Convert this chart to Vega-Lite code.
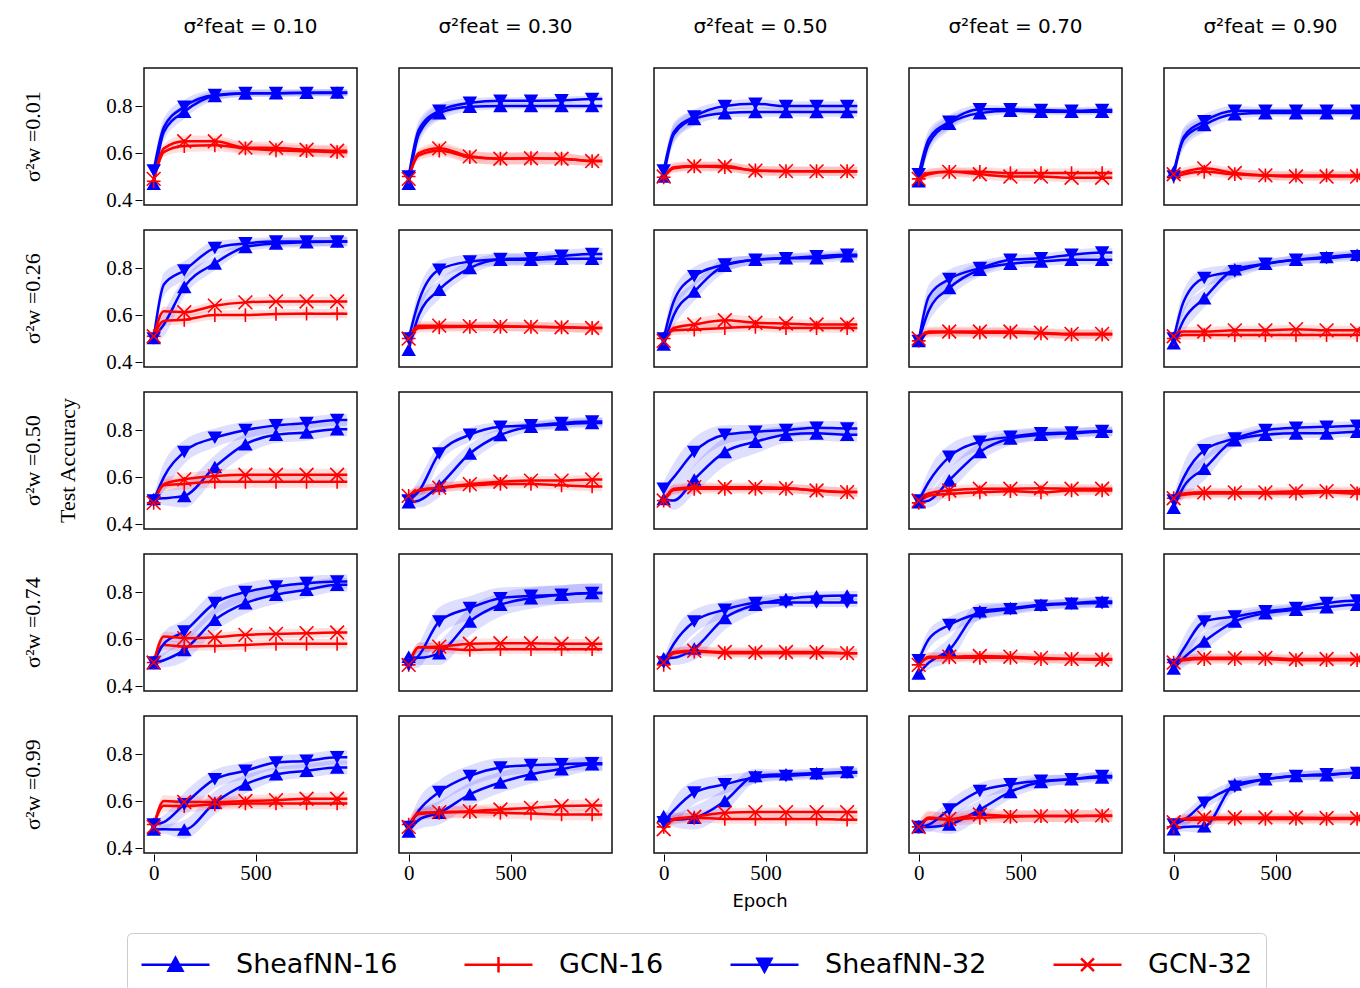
{
"$schema":"https://vega.github.io/schema/vega-lite/v6.json",
"padding":{"left":21,"top":17,"right":0,"bottom":0},
"background":"white",
"data":{"values":[
{"w":"0.01","f":"0.10","s":"SheafNN-16","e":0,"v":0.47,"d":0.02},{"w":"0.01","f":"0.10","s":"SheafNN-16","e":50,"v":0.69,"d":0.04},{"w":"0.01","f":"0.10","s":"SheafNN-16","e":150,"v":0.776,"d":0.03},{"w":"0.01","f":"0.10","s":"SheafNN-16","e":300,"v":0.843,"d":0.02},{"w":"0.01","f":"0.10","s":"SheafNN-16","e":450,"v":0.854,"d":0.015},{"w":"0.01","f":"0.10","s":"SheafNN-16","e":600,"v":0.855,"d":0.015},{"w":"0.01","f":"0.10","s":"SheafNN-16","e":750,"v":0.857,"d":0.015},{"w":"0.01","f":"0.10","s":"SheafNN-16","e":900,"v":0.858,"d":0.015},{"w":"0.01","f":"0.10","s":"SheafNN-16","e":950,"v":0.858,"d":0.015},
{"w":"0.01","f":"0.10","s":"GCN-16","e":0,"v":0.48,"d":0.02},{"w":"0.01","f":"0.10","s":"GCN-16","e":50,"v":0.604,"d":0.02},{"w":"0.01","f":"0.10","s":"GCN-16","e":150,"v":0.63,"d":0.025},{"w":"0.01","f":"0.10","s":"GCN-16","e":300,"v":0.633,"d":0.025},{"w":"0.01","f":"0.10","s":"GCN-16","e":450,"v":0.62,"d":0.025},{"w":"0.01","f":"0.10","s":"GCN-16","e":600,"v":0.612,"d":0.025},{"w":"0.01","f":"0.10","s":"GCN-16","e":750,"v":0.608,"d":0.025},{"w":"0.01","f":"0.10","s":"GCN-16","e":900,"v":0.604,"d":0.025},{"w":"0.01","f":"0.10","s":"GCN-16","e":950,"v":0.604,"d":0.025},
{"w":"0.01","f":"0.10","s":"SheafNN-32","e":0,"v":0.526,"d":0.02},{"w":"0.01","f":"0.10","s":"SheafNN-32","e":50,"v":0.71,"d":0.04},{"w":"0.01","f":"0.10","s":"SheafNN-32","e":150,"v":0.797,"d":0.03},{"w":"0.01","f":"0.10","s":"SheafNN-32","e":300,"v":0.847,"d":0.02},{"w":"0.01","f":"0.10","s":"SheafNN-32","e":450,"v":0.855,"d":0.015},{"w":"0.01","f":"0.10","s":"SheafNN-32","e":600,"v":0.855,"d":0.015},{"w":"0.01","f":"0.10","s":"SheafNN-32","e":750,"v":0.856,"d":0.015},{"w":"0.01","f":"0.10","s":"SheafNN-32","e":900,"v":0.856,"d":0.015},{"w":"0.01","f":"0.10","s":"SheafNN-32","e":950,"v":0.856,"d":0.015},
{"w":"0.01","f":"0.10","s":"GCN-32","e":0,"v":0.49,"d":0.02},{"w":"0.01","f":"0.10","s":"GCN-32","e":50,"v":0.62,"d":0.02},{"w":"0.01","f":"0.10","s":"GCN-32","e":150,"v":0.65,"d":0.025},{"w":"0.01","f":"0.10","s":"GCN-32","e":300,"v":0.65,"d":0.025},{"w":"0.01","f":"0.10","s":"GCN-32","e":450,"v":0.623,"d":0.025},{"w":"0.01","f":"0.10","s":"GCN-32","e":600,"v":0.622,"d":0.025},{"w":"0.01","f":"0.10","s":"GCN-32","e":750,"v":0.614,"d":0.025},{"w":"0.01","f":"0.10","s":"GCN-32","e":900,"v":0.61,"d":0.025},{"w":"0.01","f":"0.10","s":"GCN-32","e":950,"v":0.61,"d":0.025},

{"w":"0.01","f":"0.30","s":"SheafNN-16","e":0,"v":0.47,"d":0.02},{"w":"0.01","f":"0.30","s":"SheafNN-16","e":50,"v":0.68,"d":0.04},{"w":"0.01","f":"0.30","s":"SheafNN-16","e":150,"v":0.77,"d":0.03},{"w":"0.01","f":"0.30","s":"SheafNN-16","e":300,"v":0.797,"d":0.02},{"w":"0.01","f":"0.30","s":"SheafNN-16","e":450,"v":0.8,"d":0.015},{"w":"0.01","f":"0.30","s":"SheafNN-16","e":600,"v":0.8,"d":0.015},{"w":"0.01","f":"0.30","s":"SheafNN-16","e":750,"v":0.8,"d":0.015},{"w":"0.01","f":"0.30","s":"SheafNN-16","e":900,"v":0.8,"d":0.015},{"w":"0.01","f":"0.30","s":"SheafNN-16","e":950,"v":0.8,"d":0.015},
{"w":"0.01","f":"0.30","s":"GCN-16","e":0,"v":0.5,"d":0.02},{"w":"0.01","f":"0.30","s":"GCN-16","e":50,"v":0.59,"d":0.02},{"w":"0.01","f":"0.30","s":"GCN-16","e":150,"v":0.61,"d":0.025},{"w":"0.01","f":"0.30","s":"GCN-16","e":300,"v":0.583,"d":0.025},{"w":"0.01","f":"0.30","s":"GCN-16","e":450,"v":0.576,"d":0.025},{"w":"0.01","f":"0.30","s":"GCN-16","e":600,"v":0.578,"d":0.025},{"w":"0.01","f":"0.30","s":"GCN-16","e":750,"v":0.576,"d":0.025},{"w":"0.01","f":"0.30","s":"GCN-16","e":900,"v":0.566,"d":0.02},{"w":"0.01","f":"0.30","s":"GCN-16","e":950,"v":0.566,"d":0.02},
{"w":"0.01","f":"0.30","s":"SheafNN-32","e":0,"v":0.5,"d":0.02},{"w":"0.01","f":"0.30","s":"SheafNN-32","e":50,"v":0.7,"d":0.04},{"w":"0.01","f":"0.30","s":"SheafNN-32","e":150,"v":0.78,"d":0.03},{"w":"0.01","f":"0.30","s":"SheafNN-32","e":300,"v":0.814,"d":0.02},{"w":"0.01","f":"0.30","s":"SheafNN-32","e":450,"v":0.823,"d":0.015},{"w":"0.01","f":"0.30","s":"SheafNN-32","e":600,"v":0.823,"d":0.015},{"w":"0.01","f":"0.30","s":"SheafNN-32","e":750,"v":0.825,"d":0.015},{"w":"0.01","f":"0.30","s":"SheafNN-32","e":900,"v":0.83,"d":0.015},{"w":"0.01","f":"0.30","s":"SheafNN-32","e":950,"v":0.83,"d":0.015},
{"w":"0.01","f":"0.30","s":"GCN-32","e":0,"v":0.49,"d":0.02},{"w":"0.01","f":"0.30","s":"GCN-32","e":50,"v":0.6,"d":0.02},{"w":"0.01","f":"0.30","s":"GCN-32","e":150,"v":0.62,"d":0.025},{"w":"0.01","f":"0.30","s":"GCN-32","e":300,"v":0.586,"d":0.025},{"w":"0.01","f":"0.30","s":"GCN-32","e":450,"v":0.576,"d":0.025},{"w":"0.01","f":"0.30","s":"GCN-32","e":600,"v":0.578,"d":0.025},{"w":"0.01","f":"0.30","s":"GCN-32","e":750,"v":0.576,"d":0.025},{"w":"0.01","f":"0.30","s":"GCN-32","e":900,"v":0.566,"d":0.02},{"w":"0.01","f":"0.30","s":"GCN-32","e":950,"v":0.566,"d":0.02},

{"w":"0.01","f":"0.50","s":"SheafNN-16","e":0,"v":0.5,"d":0.02},{"w":"0.01","f":"0.50","s":"SheafNN-16","e":50,"v":0.68,"d":0.04},{"w":"0.01","f":"0.50","s":"SheafNN-16","e":150,"v":0.745,"d":0.03},{"w":"0.01","f":"0.50","s":"SheafNN-16","e":300,"v":0.77,"d":0.02},{"w":"0.01","f":"0.50","s":"SheafNN-16","e":450,"v":0.775,"d":0.02},{"w":"0.01","f":"0.50","s":"SheafNN-16","e":600,"v":0.775,"d":0.02},{"w":"0.01","f":"0.50","s":"SheafNN-16","e":750,"v":0.775,"d":0.02},{"w":"0.01","f":"0.50","s":"SheafNN-16","e":900,"v":0.775,"d":0.02},{"w":"0.01","f":"0.50","s":"SheafNN-16","e":950,"v":0.775,"d":0.02},
{"w":"0.01","f":"0.50","s":"GCN-16","e":0,"v":0.497,"d":0.02},{"w":"0.01","f":"0.50","s":"GCN-16","e":50,"v":0.535,"d":0.02},{"w":"0.01","f":"0.50","s":"GCN-16","e":150,"v":0.543,"d":0.02},{"w":"0.01","f":"0.50","s":"GCN-16","e":300,"v":0.54,"d":0.02},{"w":"0.01","f":"0.50","s":"GCN-16","e":450,"v":0.526,"d":0.02},{"w":"0.01","f":"0.50","s":"GCN-16","e":600,"v":0.523,"d":0.02},{"w":"0.01","f":"0.50","s":"GCN-16","e":750,"v":0.523,"d":0.02},{"w":"0.01","f":"0.50","s":"GCN-16","e":900,"v":0.523,"d":0.02},{"w":"0.01","f":"0.50","s":"GCN-16","e":950,"v":0.523,"d":0.02},
{"w":"0.01","f":"0.50","s":"SheafNN-32","e":0,"v":0.526,"d":0.02},{"w":"0.01","f":"0.50","s":"SheafNN-32","e":50,"v":0.69,"d":0.04},{"w":"0.01","f":"0.50","s":"SheafNN-32","e":150,"v":0.755,"d":0.03},{"w":"0.01","f":"0.50","s":"SheafNN-32","e":300,"v":0.8,"d":0.02},{"w":"0.01","f":"0.50","s":"SheafNN-32","e":450,"v":0.81,"d":0.02},{"w":"0.01","f":"0.50","s":"SheafNN-32","e":600,"v":0.8,"d":0.02},{"w":"0.01","f":"0.50","s":"SheafNN-32","e":750,"v":0.8,"d":0.02},{"w":"0.01","f":"0.50","s":"SheafNN-32","e":900,"v":0.8,"d":0.02},{"w":"0.01","f":"0.50","s":"SheafNN-32","e":950,"v":0.8,"d":0.02},
{"w":"0.01","f":"0.50","s":"GCN-32","e":0,"v":0.5,"d":0.02},{"w":"0.01","f":"0.50","s":"GCN-32","e":50,"v":0.54,"d":0.02},{"w":"0.01","f":"0.50","s":"GCN-32","e":150,"v":0.545,"d":0.02},{"w":"0.01","f":"0.50","s":"GCN-32","e":300,"v":0.545,"d":0.02},{"w":"0.01","f":"0.50","s":"GCN-32","e":450,"v":0.525,"d":0.02},{"w":"0.01","f":"0.50","s":"GCN-32","e":600,"v":0.523,"d":0.02},{"w":"0.01","f":"0.50","s":"GCN-32","e":750,"v":0.522,"d":0.02},{"w":"0.01","f":"0.50","s":"GCN-32","e":900,"v":0.522,"d":0.02},{"w":"0.01","f":"0.50","s":"GCN-32","e":950,"v":0.522,"d":0.02},

{"w":"0.01","f":"0.70","s":"SheafNN-16","e":0,"v":0.48,"d":0.02},{"w":"0.01","f":"0.70","s":"SheafNN-16","e":50,"v":0.64,"d":0.04},{"w":"0.01","f":"0.70","s":"SheafNN-16","e":150,"v":0.725,"d":0.03},{"w":"0.01","f":"0.70","s":"SheafNN-16","e":300,"v":0.77,"d":0.02},{"w":"0.01","f":"0.70","s":"SheafNN-16","e":450,"v":0.78,"d":0.015},{"w":"0.01","f":"0.70","s":"SheafNN-16","e":600,"v":0.776,"d":0.015},{"w":"0.01","f":"0.70","s":"SheafNN-16","e":750,"v":0.776,"d":0.015},{"w":"0.01","f":"0.70","s":"SheafNN-16","e":900,"v":0.776,"d":0.015},{"w":"0.01","f":"0.70","s":"SheafNN-16","e":950,"v":0.776,"d":0.015},
{"w":"0.01","f":"0.70","s":"GCN-16","e":0,"v":0.49,"d":0.02},{"w":"0.01","f":"0.70","s":"GCN-16","e":50,"v":0.515,"d":0.02},{"w":"0.01","f":"0.70","s":"GCN-16","e":150,"v":0.52,"d":0.02},{"w":"0.01","f":"0.70","s":"GCN-16","e":300,"v":0.52,"d":0.02},{"w":"0.01","f":"0.70","s":"GCN-16","e":450,"v":0.515,"d":0.02},{"w":"0.01","f":"0.70","s":"GCN-16","e":600,"v":0.515,"d":0.02},{"w":"0.01","f":"0.70","s":"GCN-16","e":750,"v":0.515,"d":0.02},{"w":"0.01","f":"0.70","s":"GCN-16","e":900,"v":0.515,"d":0.02},{"w":"0.01","f":"0.70","s":"GCN-16","e":950,"v":0.515,"d":0.02},
{"w":"0.01","f":"0.70","s":"SheafNN-32","e":0,"v":0.51,"d":0.02},{"w":"0.01","f":"0.70","s":"SheafNN-32","e":50,"v":0.66,"d":0.04},{"w":"0.01","f":"0.70","s":"SheafNN-32","e":150,"v":0.733,"d":0.03},{"w":"0.01","f":"0.70","s":"SheafNN-32","e":300,"v":0.786,"d":0.02},{"w":"0.01","f":"0.70","s":"SheafNN-32","e":450,"v":0.786,"d":0.015},{"w":"0.01","f":"0.70","s":"SheafNN-32","e":600,"v":0.783,"d":0.015},{"w":"0.01","f":"0.70","s":"SheafNN-32","e":750,"v":0.78,"d":0.015},{"w":"0.01","f":"0.70","s":"SheafNN-32","e":900,"v":0.783,"d":0.015},{"w":"0.01","f":"0.70","s":"SheafNN-32","e":950,"v":0.783,"d":0.015},
{"w":"0.01","f":"0.70","s":"GCN-32","e":0,"v":0.49,"d":0.02},{"w":"0.01","f":"0.70","s":"GCN-32","e":50,"v":0.51,"d":0.02},{"w":"0.01","f":"0.70","s":"GCN-32","e":150,"v":0.52,"d":0.02},{"w":"0.01","f":"0.70","s":"GCN-32","e":300,"v":0.51,"d":0.02},{"w":"0.01","f":"0.70","s":"GCN-32","e":450,"v":0.5,"d":0.02},{"w":"0.01","f":"0.70","s":"GCN-32","e":600,"v":0.5,"d":0.02},{"w":"0.01","f":"0.70","s":"GCN-32","e":750,"v":0.495,"d":0.02},{"w":"0.01","f":"0.70","s":"GCN-32","e":900,"v":0.495,"d":0.02},{"w":"0.01","f":"0.70","s":"GCN-32","e":950,"v":0.495,"d":0.02},

{"w":"0.01","f":"0.90","s":"SheafNN-16","e":0,"v":0.52,"d":0.02},{"w":"0.01","f":"0.90","s":"SheafNN-16","e":50,"v":0.66,"d":0.04},{"w":"0.01","f":"0.90","s":"SheafNN-16","e":150,"v":0.72,"d":0.03},{"w":"0.01","f":"0.90","s":"SheafNN-16","e":300,"v":0.765,"d":0.02},{"w":"0.01","f":"0.90","s":"SheafNN-16","e":450,"v":0.77,"d":0.015},{"w":"0.01","f":"0.90","s":"SheafNN-16","e":600,"v":0.77,"d":0.015},{"w":"0.01","f":"0.90","s":"SheafNN-16","e":750,"v":0.77,"d":0.015},{"w":"0.01","f":"0.90","s":"SheafNN-16","e":900,"v":0.77,"d":0.015},{"w":"0.01","f":"0.90","s":"SheafNN-16","e":950,"v":0.77,"d":0.015},
{"w":"0.01","f":"0.90","s":"GCN-16","e":0,"v":0.5,"d":0.02},{"w":"0.01","f":"0.90","s":"GCN-16","e":50,"v":0.51,"d":0.02},{"w":"0.01","f":"0.90","s":"GCN-16","e":150,"v":0.52,"d":0.02},{"w":"0.01","f":"0.90","s":"GCN-16","e":300,"v":0.51,"d":0.02},{"w":"0.01","f":"0.90","s":"GCN-16","e":450,"v":0.505,"d":0.02},{"w":"0.01","f":"0.90","s":"GCN-16","e":600,"v":0.505,"d":0.02},{"w":"0.01","f":"0.90","s":"GCN-16","e":750,"v":0.505,"d":0.02},{"w":"0.01","f":"0.90","s":"GCN-16","e":900,"v":0.505,"d":0.02},{"w":"0.01","f":"0.90","s":"GCN-16","e":950,"v":0.505,"d":0.02},
{"w":"0.01","f":"0.90","s":"SheafNN-32","e":0,"v":0.5,"d":0.02},{"w":"0.01","f":"0.90","s":"SheafNN-32","e":50,"v":0.67,"d":0.04},{"w":"0.01","f":"0.90","s":"SheafNN-32","e":150,"v":0.735,"d":0.03},{"w":"0.01","f":"0.90","s":"SheafNN-32","e":300,"v":0.78,"d":0.02},{"w":"0.01","f":"0.90","s":"SheafNN-32","e":450,"v":0.78,"d":0.015},{"w":"0.01","f":"0.90","s":"SheafNN-32","e":600,"v":0.78,"d":0.015},{"w":"0.01","f":"0.90","s":"SheafNN-32","e":750,"v":0.78,"d":0.015},{"w":"0.01","f":"0.90","s":"SheafNN-32","e":900,"v":0.78,"d":0.015},{"w":"0.01","f":"0.90","s":"SheafNN-32","e":950,"v":0.78,"d":0.015},
{"w":"0.01","f":"0.90","s":"GCN-32","e":0,"v":0.51,"d":0.02},{"w":"0.01","f":"0.90","s":"GCN-32","e":50,"v":0.52,"d":0.02},{"w":"0.01","f":"0.90","s":"GCN-32","e":150,"v":0.535,"d":0.02},{"w":"0.01","f":"0.90","s":"GCN-32","e":300,"v":0.515,"d":0.02},{"w":"0.01","f":"0.90","s":"GCN-32","e":450,"v":0.505,"d":0.02},{"w":"0.01","f":"0.90","s":"GCN-32","e":600,"v":0.5,"d":0.02},{"w":"0.01","f":"0.90","s":"GCN-32","e":750,"v":0.5,"d":0.02},{"w":"0.01","f":"0.90","s":"GCN-32","e":900,"v":0.5,"d":0.02},{"w":"0.01","f":"0.90","s":"GCN-32","e":950,"v":0.5,"d":0.02},

{"w":"0.26","f":"0.10","s":"SheafNN-16","e":0,"v":0.503,"d":0.02},{"w":"0.26","f":"0.10","s":"SheafNN-16","e":50,"v":0.56,"d":0.05},{"w":"0.26","f":"0.10","s":"SheafNN-16","e":150,"v":0.72,"d":0.04},{"w":"0.26","f":"0.10","s":"SheafNN-16","e":300,"v":0.82,"d":0.03},{"w":"0.26","f":"0.10","s":"SheafNN-16","e":450,"v":0.89,"d":0.02},{"w":"0.26","f":"0.10","s":"SheafNN-16","e":600,"v":0.905,"d":0.02},{"w":"0.26","f":"0.10","s":"SheafNN-16","e":750,"v":0.91,"d":0.02},{"w":"0.26","f":"0.10","s":"SheafNN-16","e":900,"v":0.913,"d":0.02},{"w":"0.26","f":"0.10","s":"SheafNN-16","e":950,"v":0.913,"d":0.02},
{"w":"0.26","f":"0.10","s":"GCN-16","e":0,"v":0.51,"d":0.02},{"w":"0.26","f":"0.10","s":"GCN-16","e":50,"v":0.575,"d":0.02},{"w":"0.26","f":"0.10","s":"GCN-16","e":150,"v":0.58,"d":0.02},{"w":"0.26","f":"0.10","s":"GCN-16","e":300,"v":0.6,"d":0.02},{"w":"0.26","f":"0.10","s":"GCN-16","e":450,"v":0.6,"d":0.02},{"w":"0.26","f":"0.10","s":"GCN-16","e":600,"v":0.605,"d":0.02},{"w":"0.26","f":"0.10","s":"GCN-16","e":750,"v":0.606,"d":0.02},{"w":"0.26","f":"0.10","s":"GCN-16","e":900,"v":0.606,"d":0.02},{"w":"0.26","f":"0.10","s":"GCN-16","e":950,"v":0.606,"d":0.02},
{"w":"0.26","f":"0.10","s":"SheafNN-32","e":0,"v":0.5,"d":0.02},{"w":"0.26","f":"0.10","s":"SheafNN-32","e":50,"v":0.73,"d":0.05},{"w":"0.26","f":"0.10","s":"SheafNN-32","e":150,"v":0.79,"d":0.04},{"w":"0.26","f":"0.10","s":"SheafNN-32","e":300,"v":0.885,"d":0.03},{"w":"0.26","f":"0.10","s":"SheafNN-32","e":450,"v":0.905,"d":0.02},{"w":"0.26","f":"0.10","s":"SheafNN-32","e":600,"v":0.913,"d":0.02},{"w":"0.26","f":"0.10","s":"SheafNN-32","e":750,"v":0.913,"d":0.02},{"w":"0.26","f":"0.10","s":"SheafNN-32","e":900,"v":0.913,"d":0.02},{"w":"0.26","f":"0.10","s":"SheafNN-32","e":950,"v":0.913,"d":0.02},
{"w":"0.26","f":"0.10","s":"GCN-32","e":0,"v":0.51,"d":0.02},{"w":"0.26","f":"0.10","s":"GCN-32","e":50,"v":0.616,"d":0.02},{"w":"0.26","f":"0.10","s":"GCN-32","e":150,"v":0.612,"d":0.02},{"w":"0.26","f":"0.10","s":"GCN-32","e":300,"v":0.64,"d":0.02},{"w":"0.26","f":"0.10","s":"GCN-32","e":450,"v":0.654,"d":0.02},{"w":"0.26","f":"0.10","s":"GCN-32","e":600,"v":0.658,"d":0.02},{"w":"0.26","f":"0.10","s":"GCN-32","e":750,"v":0.658,"d":0.02},{"w":"0.26","f":"0.10","s":"GCN-32","e":900,"v":0.658,"d":0.02},{"w":"0.26","f":"0.10","s":"GCN-32","e":950,"v":0.658,"d":0.02},

{"w":"0.26","f":"0.30","s":"SheafNN-16","e":0,"v":0.453,"d":0.03},{"w":"0.26","f":"0.30","s":"SheafNN-16","e":50,"v":0.6,"d":0.05},{"w":"0.26","f":"0.30","s":"SheafNN-16","e":150,"v":0.708,"d":0.04},{"w":"0.26","f":"0.30","s":"SheafNN-16","e":300,"v":0.8,"d":0.03},{"w":"0.26","f":"0.30","s":"SheafNN-16","e":450,"v":0.835,"d":0.025},{"w":"0.26","f":"0.30","s":"SheafNN-16","e":600,"v":0.835,"d":0.025},{"w":"0.26","f":"0.30","s":"SheafNN-16","e":750,"v":0.84,"d":0.025},{"w":"0.26","f":"0.30","s":"SheafNN-16","e":900,"v":0.84,"d":0.025},{"w":"0.26","f":"0.30","s":"SheafNN-16","e":950,"v":0.84,"d":0.025},
{"w":"0.26","f":"0.30","s":"GCN-16","e":0,"v":0.5,"d":0.02},{"w":"0.26","f":"0.30","s":"GCN-16","e":50,"v":0.545,"d":0.02},{"w":"0.26","f":"0.30","s":"GCN-16","e":150,"v":0.548,"d":0.02},{"w":"0.26","f":"0.30","s":"GCN-16","e":300,"v":0.55,"d":0.02},{"w":"0.26","f":"0.30","s":"GCN-16","e":450,"v":0.55,"d":0.02},{"w":"0.26","f":"0.30","s":"GCN-16","e":600,"v":0.55,"d":0.02},{"w":"0.26","f":"0.30","s":"GCN-16","e":750,"v":0.548,"d":0.02},{"w":"0.26","f":"0.30","s":"GCN-16","e":900,"v":0.545,"d":0.02},{"w":"0.26","f":"0.30","s":"GCN-16","e":950,"v":0.545,"d":0.02},
{"w":"0.26","f":"0.30","s":"SheafNN-32","e":0,"v":0.5,"d":0.02},{"w":"0.26","f":"0.30","s":"SheafNN-32","e":50,"v":0.66,"d":0.05},{"w":"0.26","f":"0.30","s":"SheafNN-32","e":150,"v":0.793,"d":0.04},{"w":"0.26","f":"0.30","s":"SheafNN-32","e":300,"v":0.828,"d":0.03},{"w":"0.26","f":"0.30","s":"SheafNN-32","e":450,"v":0.838,"d":0.025},{"w":"0.26","f":"0.30","s":"SheafNN-32","e":600,"v":0.842,"d":0.025},{"w":"0.26","f":"0.30","s":"SheafNN-32","e":750,"v":0.852,"d":0.025},{"w":"0.26","f":"0.30","s":"SheafNN-32","e":900,"v":0.86,"d":0.025},{"w":"0.26","f":"0.30","s":"SheafNN-32","e":950,"v":0.86,"d":0.025},
{"w":"0.26","f":"0.30","s":"GCN-32","e":0,"v":0.5,"d":0.02},{"w":"0.26","f":"0.30","s":"GCN-32","e":50,"v":0.555,"d":0.02},{"w":"0.26","f":"0.30","s":"GCN-32","e":150,"v":0.555,"d":0.02},{"w":"0.26","f":"0.30","s":"GCN-32","e":300,"v":0.553,"d":0.02},{"w":"0.26","f":"0.30","s":"GCN-32","e":450,"v":0.553,"d":0.02},{"w":"0.26","f":"0.30","s":"GCN-32","e":600,"v":0.55,"d":0.02},{"w":"0.26","f":"0.30","s":"GCN-32","e":750,"v":0.548,"d":0.02},{"w":"0.26","f":"0.30","s":"GCN-32","e":900,"v":0.545,"d":0.02},{"w":"0.26","f":"0.30","s":"GCN-32","e":950,"v":0.545,"d":0.02},

{"w":"0.26","f":"0.50","s":"SheafNN-16","e":0,"v":0.475,"d":0.02},{"w":"0.26","f":"0.50","s":"SheafNN-16","e":50,"v":0.6,"d":0.05},{"w":"0.26","f":"0.50","s":"SheafNN-16","e":150,"v":0.7,"d":0.04},{"w":"0.26","f":"0.50","s":"SheafNN-16","e":300,"v":0.81,"d":0.03},{"w":"0.26","f":"0.50","s":"SheafNN-16","e":450,"v":0.835,"d":0.02},{"w":"0.26","f":"0.50","s":"SheafNN-16","e":600,"v":0.842,"d":0.02},{"w":"0.26","f":"0.50","s":"SheafNN-16","e":750,"v":0.842,"d":0.02},{"w":"0.26","f":"0.50","s":"SheafNN-16","e":900,"v":0.85,"d":0.02},{"w":"0.26","f":"0.50","s":"SheafNN-16","e":950,"v":0.85,"d":0.02},
{"w":"0.26","f":"0.50","s":"GCN-16","e":0,"v":0.5,"d":0.02},{"w":"0.26","f":"0.50","s":"GCN-16","e":50,"v":0.535,"d":0.02},{"w":"0.26","f":"0.50","s":"GCN-16","e":150,"v":0.538,"d":0.02},{"w":"0.26","f":"0.50","s":"GCN-16","e":300,"v":0.545,"d":0.02},{"w":"0.26","f":"0.50","s":"GCN-16","e":450,"v":0.55,"d":0.02},{"w":"0.26","f":"0.50","s":"GCN-16","e":600,"v":0.545,"d":0.02},{"w":"0.26","f":"0.50","s":"GCN-16","e":750,"v":0.545,"d":0.02},{"w":"0.26","f":"0.50","s":"GCN-16","e":900,"v":0.545,"d":0.02},{"w":"0.26","f":"0.50","s":"GCN-16","e":950,"v":0.545,"d":0.02},
{"w":"0.26","f":"0.50","s":"SheafNN-32","e":0,"v":0.5,"d":0.02},{"w":"0.26","f":"0.50","s":"SheafNN-32","e":50,"v":0.66,"d":0.05},{"w":"0.26","f":"0.50","s":"SheafNN-32","e":150,"v":0.765,"d":0.04},{"w":"0.26","f":"0.50","s":"SheafNN-32","e":300,"v":0.815,"d":0.03},{"w":"0.26","f":"0.50","s":"SheafNN-32","e":450,"v":0.835,"d":0.02},{"w":"0.26","f":"0.50","s":"SheafNN-32","e":600,"v":0.842,"d":0.02},{"w":"0.26","f":"0.50","s":"SheafNN-32","e":750,"v":0.85,"d":0.02},{"w":"0.26","f":"0.50","s":"SheafNN-32","e":900,"v":0.857,"d":0.02},{"w":"0.26","f":"0.50","s":"SheafNN-32","e":950,"v":0.857,"d":0.02},
{"w":"0.26","f":"0.50","s":"GCN-32","e":0,"v":0.49,"d":0.02},{"w":"0.26","f":"0.50","s":"GCN-32","e":50,"v":0.545,"d":0.02},{"w":"0.26","f":"0.50","s":"GCN-32","e":150,"v":0.56,"d":0.025},{"w":"0.26","f":"0.50","s":"GCN-32","e":300,"v":0.578,"d":0.025},{"w":"0.26","f":"0.50","s":"GCN-32","e":450,"v":0.567,"d":0.025},{"w":"0.26","f":"0.50","s":"GCN-32","e":600,"v":0.564,"d":0.02},{"w":"0.26","f":"0.50","s":"GCN-32","e":750,"v":0.56,"d":0.02},{"w":"0.26","f":"0.50","s":"GCN-32","e":900,"v":0.56,"d":0.02},{"w":"0.26","f":"0.50","s":"GCN-32","e":950,"v":0.56,"d":0.02},

{"w":"0.26","f":"0.70","s":"SheafNN-16","e":0,"v":0.49,"d":0.02},{"w":"0.26","f":"0.70","s":"SheafNN-16","e":50,"v":0.62,"d":0.05},{"w":"0.26","f":"0.70","s":"SheafNN-16","e":150,"v":0.715,"d":0.04},{"w":"0.26","f":"0.70","s":"SheafNN-16","e":300,"v":0.793,"d":0.03},{"w":"0.26","f":"0.70","s":"SheafNN-16","e":450,"v":0.818,"d":0.02},{"w":"0.26","f":"0.70","s":"SheafNN-16","e":600,"v":0.828,"d":0.02},{"w":"0.26","f":"0.70","s":"SheafNN-16","e":750,"v":0.835,"d":0.02},{"w":"0.26","f":"0.70","s":"SheafNN-16","e":900,"v":0.835,"d":0.02},{"w":"0.26","f":"0.70","s":"SheafNN-16","e":950,"v":0.835,"d":0.02},
{"w":"0.26","f":"0.70","s":"GCN-16","e":0,"v":0.49,"d":0.02},{"w":"0.26","f":"0.70","s":"GCN-16","e":50,"v":0.525,"d":0.02},{"w":"0.26","f":"0.70","s":"GCN-16","e":150,"v":0.527,"d":0.02},{"w":"0.26","f":"0.70","s":"GCN-16","e":300,"v":0.525,"d":0.02},{"w":"0.26","f":"0.70","s":"GCN-16","e":450,"v":0.525,"d":0.02},{"w":"0.26","f":"0.70","s":"GCN-16","e":600,"v":0.522,"d":0.02},{"w":"0.26","f":"0.70","s":"GCN-16","e":750,"v":0.517,"d":0.02},{"w":"0.26","f":"0.70","s":"GCN-16","e":900,"v":0.517,"d":0.02},{"w":"0.26","f":"0.70","s":"GCN-16","e":950,"v":0.517,"d":0.02},
{"w":"0.26","f":"0.70","s":"SheafNN-32","e":0,"v":0.49,"d":0.02},{"w":"0.26","f":"0.70","s":"SheafNN-32","e":50,"v":0.68,"d":0.05},{"w":"0.26","f":"0.70","s":"SheafNN-32","e":150,"v":0.753,"d":0.04},{"w":"0.26","f":"0.70","s":"SheafNN-32","e":300,"v":0.8,"d":0.03},{"w":"0.26","f":"0.70","s":"SheafNN-32","e":450,"v":0.835,"d":0.02},{"w":"0.26","f":"0.70","s":"SheafNN-32","e":600,"v":0.842,"d":0.02},{"w":"0.26","f":"0.70","s":"SheafNN-32","e":750,"v":0.857,"d":0.02},{"w":"0.26","f":"0.70","s":"SheafNN-32","e":900,"v":0.866,"d":0.02},{"w":"0.26","f":"0.70","s":"SheafNN-32","e":950,"v":0.866,"d":0.02},
{"w":"0.26","f":"0.70","s":"GCN-32","e":0,"v":0.5,"d":0.02},{"w":"0.26","f":"0.70","s":"GCN-32","e":50,"v":0.53,"d":0.02},{"w":"0.26","f":"0.70","s":"GCN-32","e":150,"v":0.53,"d":0.02},{"w":"0.26","f":"0.70","s":"GCN-32","e":300,"v":0.53,"d":0.02},{"w":"0.26","f":"0.70","s":"GCN-32","e":450,"v":0.53,"d":0.02},{"w":"0.26","f":"0.70","s":"GCN-32","e":600,"v":0.525,"d":0.02},{"w":"0.26","f":"0.70","s":"GCN-32","e":750,"v":0.52,"d":0.02},{"w":"0.26","f":"0.70","s":"GCN-32","e":900,"v":0.52,"d":0.02},{"w":"0.26","f":"0.70","s":"GCN-32","e":950,"v":0.52,"d":0.02},

{"w":"0.26","f":"0.90","s":"SheafNN-16","e":0,"v":0.48,"d":0.02},{"w":"0.26","f":"0.90","s":"SheafNN-16","e":50,"v":0.58,"d":0.05},{"w":"0.26","f":"0.90","s":"SheafNN-16","e":150,"v":0.672,"d":0.04},{"w":"0.26","f":"0.90","s":"SheafNN-16","e":300,"v":0.795,"d":0.03},{"w":"0.26","f":"0.90","s":"SheafNN-16","e":450,"v":0.818,"d":0.02},{"w":"0.26","f":"0.90","s":"SheafNN-16","e":600,"v":0.835,"d":0.02},{"w":"0.26","f":"0.90","s":"SheafNN-16","e":750,"v":0.847,"d":0.02},{"w":"0.26","f":"0.90","s":"SheafNN-16","e":900,"v":0.857,"d":0.02},{"w":"0.26","f":"0.90","s":"SheafNN-16","e":950,"v":0.857,"d":0.02},
{"w":"0.26","f":"0.90","s":"GCN-16","e":0,"v":0.5,"d":0.02},{"w":"0.26","f":"0.90","s":"GCN-16","e":50,"v":0.515,"d":0.02},{"w":"0.26","f":"0.90","s":"GCN-16","e":150,"v":0.515,"d":0.02},{"w":"0.26","f":"0.90","s":"GCN-16","e":300,"v":0.515,"d":0.02},{"w":"0.26","f":"0.90","s":"GCN-16","e":450,"v":0.515,"d":0.02},{"w":"0.26","f":"0.90","s":"GCN-16","e":600,"v":0.515,"d":0.02},{"w":"0.26","f":"0.90","s":"GCN-16","e":750,"v":0.515,"d":0.02},{"w":"0.26","f":"0.90","s":"GCN-16","e":900,"v":0.515,"d":0.02},{"w":"0.26","f":"0.90","s":"GCN-16","e":950,"v":0.515,"d":0.02},
{"w":"0.26","f":"0.90","s":"SheafNN-32","e":0,"v":0.5,"d":0.02},{"w":"0.26","f":"0.90","s":"SheafNN-32","e":50,"v":0.66,"d":0.05},{"w":"0.26","f":"0.90","s":"SheafNN-32","e":150,"v":0.758,"d":0.04},{"w":"0.26","f":"0.90","s":"SheafNN-32","e":300,"v":0.786,"d":0.03},{"w":"0.26","f":"0.90","s":"SheafNN-32","e":450,"v":0.818,"d":0.02},{"w":"0.26","f":"0.90","s":"SheafNN-32","e":600,"v":0.835,"d":0.02},{"w":"0.26","f":"0.90","s":"SheafNN-32","e":750,"v":0.842,"d":0.02},{"w":"0.26","f":"0.90","s":"SheafNN-32","e":900,"v":0.85,"d":0.02},{"w":"0.26","f":"0.90","s":"SheafNN-32","e":950,"v":0.85,"d":0.02},
{"w":"0.26","f":"0.90","s":"GCN-32","e":0,"v":0.51,"d":0.02},{"w":"0.26","f":"0.90","s":"GCN-32","e":50,"v":0.53,"d":0.02},{"w":"0.26","f":"0.90","s":"GCN-32","e":150,"v":0.53,"d":0.02},{"w":"0.26","f":"0.90","s":"GCN-32","e":300,"v":0.535,"d":0.02},{"w":"0.26","f":"0.90","s":"GCN-32","e":450,"v":0.535,"d":0.02},{"w":"0.26","f":"0.90","s":"GCN-32","e":600,"v":0.54,"d":0.02},{"w":"0.26","f":"0.90","s":"GCN-32","e":750,"v":0.535,"d":0.02},{"w":"0.26","f":"0.90","s":"GCN-32","e":900,"v":0.535,"d":0.02},{"w":"0.26","f":"0.90","s":"GCN-32","e":950,"v":0.535,"d":0.02},

{"w":"0.50","f":"0.10","s":"SheafNN-16","e":0,"v":0.507,"d":0.02},{"w":"0.50","f":"0.10","s":"SheafNN-16","e":50,"v":0.51,"d":0.03},{"w":"0.50","f":"0.10","s":"SheafNN-16","e":150,"v":0.52,"d":0.05},{"w":"0.50","f":"0.10","s":"SheafNN-16","e":300,"v":0.643,"d":0.05},{"w":"0.50","f":"0.10","s":"SheafNN-16","e":450,"v":0.74,"d":0.045},{"w":"0.50","f":"0.10","s":"SheafNN-16","e":600,"v":0.78,"d":0.035},{"w":"0.50","f":"0.10","s":"SheafNN-16","e":750,"v":0.79,"d":0.035},{"w":"0.50","f":"0.10","s":"SheafNN-16","e":900,"v":0.804,"d":0.03},{"w":"0.50","f":"0.10","s":"SheafNN-16","e":950,"v":0.804,"d":0.03},
{"w":"0.50","f":"0.10","s":"GCN-16","e":0,"v":0.49,"d":0.02},{"w":"0.50","f":"0.10","s":"GCN-16","e":50,"v":0.565,"d":0.025},{"w":"0.50","f":"0.10","s":"GCN-16","e":150,"v":0.571,"d":0.025},{"w":"0.50","f":"0.10","s":"GCN-16","e":300,"v":0.58,"d":0.025},{"w":"0.50","f":"0.10","s":"GCN-16","e":450,"v":0.58,"d":0.025},{"w":"0.50","f":"0.10","s":"GCN-16","e":600,"v":0.58,"d":0.025},{"w":"0.50","f":"0.10","s":"GCN-16","e":750,"v":0.58,"d":0.025},{"w":"0.50","f":"0.10","s":"GCN-16","e":900,"v":0.58,"d":0.025},{"w":"0.50","f":"0.10","s":"GCN-16","e":950,"v":0.58,"d":0.025},
{"w":"0.50","f":"0.10","s":"SheafNN-32","e":0,"v":0.5,"d":0.02},{"w":"0.50","f":"0.10","s":"SheafNN-32","e":50,"v":0.6,"d":0.06},{"w":"0.50","f":"0.10","s":"SheafNN-32","e":150,"v":0.707,"d":0.05},{"w":"0.50","f":"0.10","s":"SheafNN-32","e":300,"v":0.767,"d":0.04},{"w":"0.50","f":"0.10","s":"SheafNN-32","e":450,"v":0.8,"d":0.035},{"w":"0.50","f":"0.10","s":"SheafNN-32","e":600,"v":0.82,"d":0.03},{"w":"0.50","f":"0.10","s":"SheafNN-32","e":750,"v":0.83,"d":0.025},{"w":"0.50","f":"0.10","s":"SheafNN-32","e":900,"v":0.843,"d":0.025},{"w":"0.50","f":"0.10","s":"SheafNN-32","e":950,"v":0.843,"d":0.025},
{"w":"0.50","f":"0.10","s":"GCN-32","e":0,"v":0.49,"d":0.02},{"w":"0.50","f":"0.10","s":"GCN-32","e":50,"v":0.57,"d":0.025},{"w":"0.50","f":"0.10","s":"GCN-32","e":150,"v":0.59,"d":0.025},{"w":"0.50","f":"0.10","s":"GCN-32","e":300,"v":0.604,"d":0.025},{"w":"0.50","f":"0.10","s":"GCN-32","e":450,"v":0.61,"d":0.025},{"w":"0.50","f":"0.10","s":"GCN-32","e":600,"v":0.61,"d":0.025},{"w":"0.50","f":"0.10","s":"GCN-32","e":750,"v":0.61,"d":0.025},{"w":"0.50","f":"0.10","s":"GCN-32","e":900,"v":0.61,"d":0.025},{"w":"0.50","f":"0.10","s":"GCN-32","e":950,"v":0.61,"d":0.025},

{"w":"0.50","f":"0.30","s":"SheafNN-16","e":0,"v":0.493,"d":0.02},{"w":"0.50","f":"0.30","s":"SheafNN-16","e":50,"v":0.5,"d":0.03},{"w":"0.50","f":"0.30","s":"SheafNN-16","e":150,"v":0.564,"d":0.05},{"w":"0.50","f":"0.30","s":"SheafNN-16","e":300,"v":0.7,"d":0.04},{"w":"0.50","f":"0.30","s":"SheafNN-16","e":450,"v":0.779,"d":0.03},{"w":"0.50","f":"0.30","s":"SheafNN-16","e":600,"v":0.814,"d":0.02},{"w":"0.50","f":"0.30","s":"SheafNN-16","e":750,"v":0.824,"d":0.02},{"w":"0.50","f":"0.30","s":"SheafNN-16","e":900,"v":0.83,"d":0.02},{"w":"0.50","f":"0.30","s":"SheafNN-16","e":950,"v":0.83,"d":0.02},
{"w":"0.50","f":"0.30","s":"GCN-16","e":0,"v":0.52,"d":0.02},{"w":"0.50","f":"0.30","s":"GCN-16","e":50,"v":0.54,"d":0.02},{"w":"0.50","f":"0.30","s":"GCN-16","e":150,"v":0.553,"d":0.02},{"w":"0.50","f":"0.30","s":"GCN-16","e":300,"v":0.564,"d":0.02},{"w":"0.50","f":"0.30","s":"GCN-16","e":450,"v":0.571,"d":0.02},{"w":"0.50","f":"0.30","s":"GCN-16","e":600,"v":0.571,"d":0.02},{"w":"0.50","f":"0.30","s":"GCN-16","e":750,"v":0.565,"d":0.02},{"w":"0.50","f":"0.30","s":"GCN-16","e":900,"v":0.56,"d":0.02},{"w":"0.50","f":"0.30","s":"GCN-16","e":950,"v":0.56,"d":0.02},
{"w":"0.50","f":"0.30","s":"SheafNN-32","e":0,"v":0.5,"d":0.02},{"w":"0.50","f":"0.30","s":"SheafNN-32","e":50,"v":0.54,"d":0.05},{"w":"0.50","f":"0.30","s":"SheafNN-32","e":150,"v":0.7,"d":0.04},{"w":"0.50","f":"0.30","s":"SheafNN-32","e":300,"v":0.78,"d":0.03},{"w":"0.50","f":"0.30","s":"SheafNN-32","e":450,"v":0.814,"d":0.02},{"w":"0.50","f":"0.30","s":"SheafNN-32","e":600,"v":0.82,"d":0.02},{"w":"0.50","f":"0.30","s":"SheafNN-32","e":750,"v":0.83,"d":0.02},{"w":"0.50","f":"0.30","s":"SheafNN-32","e":900,"v":0.836,"d":0.02},{"w":"0.50","f":"0.30","s":"SheafNN-32","e":950,"v":0.836,"d":0.02},
{"w":"0.50","f":"0.30","s":"GCN-32","e":0,"v":0.52,"d":0.02},{"w":"0.50","f":"0.30","s":"GCN-32","e":50,"v":0.545,"d":0.02},{"w":"0.50","f":"0.30","s":"GCN-32","e":150,"v":0.555,"d":0.02},{"w":"0.50","f":"0.30","s":"GCN-32","e":300,"v":0.57,"d":0.02},{"w":"0.50","f":"0.30","s":"GCN-32","e":450,"v":0.58,"d":0.02},{"w":"0.50","f":"0.30","s":"GCN-32","e":600,"v":0.585,"d":0.02},{"w":"0.50","f":"0.30","s":"GCN-32","e":750,"v":0.585,"d":0.02},{"w":"0.50","f":"0.30","s":"GCN-32","e":900,"v":0.59,"d":0.02},{"w":"0.50","f":"0.30","s":"GCN-32","e":950,"v":0.59,"d":0.02},

{"w":"0.50","f":"0.50","s":"SheafNN-16","e":0,"v":0.507,"d":0.02},{"w":"0.50","f":"0.50","s":"SheafNN-16","e":50,"v":0.5,"d":0.04},{"w":"0.50","f":"0.50","s":"SheafNN-16","e":150,"v":0.59,"d":0.06},{"w":"0.50","f":"0.50","s":"SheafNN-16","e":300,"v":0.707,"d":0.06},{"w":"0.50","f":"0.50","s":"SheafNN-16","e":450,"v":0.75,"d":0.05},{"w":"0.50","f":"0.50","s":"SheafNN-16","e":600,"v":0.78,"d":0.035},{"w":"0.50","f":"0.50","s":"SheafNN-16","e":750,"v":0.786,"d":0.03},{"w":"0.50","f":"0.50","s":"SheafNN-16","e":900,"v":0.78,"d":0.03},{"w":"0.50","f":"0.50","s":"SheafNN-16","e":950,"v":0.78,"d":0.03},
{"w":"0.50","f":"0.50","s":"GCN-16","e":0,"v":0.5,"d":0.02},{"w":"0.50","f":"0.50","s":"GCN-16","e":50,"v":0.545,"d":0.02},{"w":"0.50","f":"0.50","s":"GCN-16","e":150,"v":0.55,"d":0.02},{"w":"0.50","f":"0.50","s":"GCN-16","e":300,"v":0.55,"d":0.02},{"w":"0.50","f":"0.50","s":"GCN-16","e":450,"v":0.55,"d":0.02},{"w":"0.50","f":"0.50","s":"GCN-16","e":600,"v":0.55,"d":0.02},{"w":"0.50","f":"0.50","s":"GCN-16","e":750,"v":0.543,"d":0.02},{"w":"0.50","f":"0.50","s":"GCN-16","e":900,"v":0.536,"d":0.02},{"w":"0.50","f":"0.50","s":"GCN-16","e":950,"v":0.536,"d":0.02},
{"w":"0.50","f":"0.50","s":"SheafNN-32","e":0,"v":0.55,"d":0.03},{"w":"0.50","f":"0.50","s":"SheafNN-32","e":50,"v":0.6,"d":0.06},{"w":"0.50","f":"0.50","s":"SheafNN-32","e":150,"v":0.707,"d":0.06},{"w":"0.50","f":"0.50","s":"SheafNN-32","e":300,"v":0.78,"d":0.04},{"w":"0.50","f":"0.50","s":"SheafNN-32","e":450,"v":0.793,"d":0.03},{"w":"0.50","f":"0.50","s":"SheafNN-32","e":600,"v":0.8,"d":0.03},{"w":"0.50","f":"0.50","s":"SheafNN-32","e":750,"v":0.81,"d":0.03},{"w":"0.50","f":"0.50","s":"SheafNN-32","e":900,"v":0.807,"d":0.03},{"w":"0.50","f":"0.50","s":"SheafNN-32","e":950,"v":0.807,"d":0.03},
{"w":"0.50","f":"0.50","s":"GCN-32","e":0,"v":0.5,"d":0.02},{"w":"0.50","f":"0.50","s":"GCN-32","e":50,"v":0.55,"d":0.02},{"w":"0.50","f":"0.50","s":"GCN-32","e":150,"v":0.557,"d":0.02},{"w":"0.50","f":"0.50","s":"GCN-32","e":300,"v":0.557,"d":0.02},{"w":"0.50","f":"0.50","s":"GCN-32","e":450,"v":0.557,"d":0.02},{"w":"0.50","f":"0.50","s":"GCN-32","e":600,"v":0.553,"d":0.02},{"w":"0.50","f":"0.50","s":"GCN-32","e":750,"v":0.543,"d":0.02},{"w":"0.50","f":"0.50","s":"GCN-32","e":900,"v":0.536,"d":0.02},{"w":"0.50","f":"0.50","s":"GCN-32","e":950,"v":0.536,"d":0.02},

{"w":"0.50","f":"0.70","s":"SheafNN-16","e":0,"v":0.493,"d":0.02},{"w":"0.50","f":"0.70","s":"SheafNN-16","e":50,"v":0.5,"d":0.03},{"w":"0.50","f":"0.70","s":"SheafNN-16","e":150,"v":0.586,"d":0.05},{"w":"0.50","f":"0.70","s":"SheafNN-16","e":300,"v":0.707,"d":0.04},{"w":"0.50","f":"0.70","s":"SheafNN-16","e":450,"v":0.764,"d":0.03},{"w":"0.50","f":"0.70","s":"SheafNN-16","e":600,"v":0.78,"d":0.025},{"w":"0.50","f":"0.70","s":"SheafNN-16","e":750,"v":0.786,"d":0.02},{"w":"0.50","f":"0.70","s":"SheafNN-16","e":900,"v":0.793,"d":0.02},{"w":"0.50","f":"0.70","s":"SheafNN-16","e":950,"v":0.793,"d":0.02},
{"w":"0.50","f":"0.70","s":"GCN-16","e":0,"v":0.49,"d":0.02},{"w":"0.50","f":"0.70","s":"GCN-16","e":50,"v":0.52,"d":0.02},{"w":"0.50","f":"0.70","s":"GCN-16","e":150,"v":0.528,"d":0.02},{"w":"0.50","f":"0.70","s":"GCN-16","e":300,"v":0.535,"d":0.02},{"w":"0.50","f":"0.70","s":"GCN-16","e":450,"v":0.54,"d":0.02},{"w":"0.50","f":"0.70","s":"GCN-16","e":600,"v":0.535,"d":0.02},{"w":"0.50","f":"0.70","s":"GCN-16","e":750,"v":0.543,"d":0.02},{"w":"0.50","f":"0.70","s":"GCN-16","e":900,"v":0.543,"d":0.02},{"w":"0.50","f":"0.70","s":"GCN-16","e":950,"v":0.543,"d":0.02},
{"w":"0.50","f":"0.70","s":"SheafNN-32","e":0,"v":0.5,"d":0.02},{"w":"0.50","f":"0.70","s":"SheafNN-32","e":50,"v":0.58,"d":0.05},{"w":"0.50","f":"0.70","s":"SheafNN-32","e":150,"v":0.686,"d":0.05},{"w":"0.50","f":"0.70","s":"SheafNN-32","e":300,"v":0.75,"d":0.035},{"w":"0.50","f":"0.70","s":"SheafNN-32","e":450,"v":0.771,"d":0.03},{"w":"0.50","f":"0.70","s":"SheafNN-32","e":600,"v":0.786,"d":0.025},{"w":"0.50","f":"0.70","s":"SheafNN-32","e":750,"v":0.79,"d":0.02},{"w":"0.50","f":"0.70","s":"SheafNN-32","e":900,"v":0.796,"d":0.02},{"w":"0.50","f":"0.70","s":"SheafNN-32","e":950,"v":0.796,"d":0.02},
{"w":"0.50","f":"0.70","s":"GCN-32","e":0,"v":0.5,"d":0.02},{"w":"0.50","f":"0.70","s":"GCN-32","e":50,"v":0.53,"d":0.02},{"w":"0.50","f":"0.70","s":"GCN-32","e":150,"v":0.543,"d":0.02},{"w":"0.50","f":"0.70","s":"GCN-32","e":300,"v":0.55,"d":0.02},{"w":"0.50","f":"0.70","s":"GCN-32","e":450,"v":0.55,"d":0.02},{"w":"0.50","f":"0.70","s":"GCN-32","e":600,"v":0.552,"d":0.02},{"w":"0.50","f":"0.70","s":"GCN-32","e":750,"v":0.55,"d":0.02},{"w":"0.50","f":"0.70","s":"GCN-32","e":900,"v":0.55,"d":0.02},{"w":"0.50","f":"0.70","s":"GCN-32","e":950,"v":0.55,"d":0.02},

{"w":"0.50","f":"0.90","s":"SheafNN-16","e":0,"v":0.47,"d":0.02},{"w":"0.50","f":"0.90","s":"SheafNN-16","e":50,"v":0.56,"d":0.05},{"w":"0.50","f":"0.90","s":"SheafNN-16","e":150,"v":0.636,"d":0.05},{"w":"0.50","f":"0.90","s":"SheafNN-16","e":300,"v":0.757,"d":0.03},{"w":"0.50","f":"0.90","s":"SheafNN-16","e":450,"v":0.78,"d":0.025},{"w":"0.50","f":"0.90","s":"SheafNN-16","e":600,"v":0.786,"d":0.02},{"w":"0.50","f":"0.90","s":"SheafNN-16","e":750,"v":0.786,"d":0.02},{"w":"0.50","f":"0.90","s":"SheafNN-16","e":900,"v":0.793,"d":0.02},{"w":"0.50","f":"0.90","s":"SheafNN-16","e":950,"v":0.793,"d":0.02},
{"w":"0.50","f":"0.90","s":"GCN-16","e":0,"v":0.51,"d":0.02},{"w":"0.50","f":"0.90","s":"GCN-16","e":50,"v":0.525,"d":0.02},{"w":"0.50","f":"0.90","s":"GCN-16","e":150,"v":0.53,"d":0.02},{"w":"0.50","f":"0.90","s":"GCN-16","e":300,"v":0.53,"d":0.02},{"w":"0.50","f":"0.90","s":"GCN-16","e":450,"v":0.53,"d":0.02},{"w":"0.50","f":"0.90","s":"GCN-16","e":600,"v":0.53,"d":0.02},{"w":"0.50","f":"0.90","s":"GCN-16","e":750,"v":0.535,"d":0.02},{"w":"0.50","f":"0.90","s":"GCN-16","e":900,"v":0.53,"d":0.02},{"w":"0.50","f":"0.90","s":"GCN-16","e":950,"v":0.53,"d":0.02},
{"w":"0.50","f":"0.90","s":"SheafNN-32","e":0,"v":0.5,"d":0.02},{"w":"0.50","f":"0.90","s":"SheafNN-32","e":50,"v":0.6,"d":0.06},{"w":"0.50","f":"0.90","s":"SheafNN-32","e":150,"v":0.714,"d":0.05},{"w":"0.50","f":"0.90","s":"SheafNN-32","e":300,"v":0.764,"d":0.03},{"w":"0.50","f":"0.90","s":"SheafNN-32","e":450,"v":0.8,"d":0.025},{"w":"0.50","f":"0.90","s":"SheafNN-32","e":600,"v":0.81,"d":0.02},{"w":"0.50","f":"0.90","s":"SheafNN-32","e":750,"v":0.814,"d":0.02},{"w":"0.50","f":"0.90","s":"SheafNN-32","e":900,"v":0.818,"d":0.02},{"w":"0.50","f":"0.90","s":"SheafNN-32","e":950,"v":0.818,"d":0.02},
{"w":"0.50","f":"0.90","s":"GCN-32","e":0,"v":0.51,"d":0.02},{"w":"0.50","f":"0.90","s":"GCN-32","e":50,"v":0.53,"d":0.02},{"w":"0.50","f":"0.90","s":"GCN-32","e":150,"v":0.535,"d":0.02},{"w":"0.50","f":"0.90","s":"GCN-32","e":300,"v":0.535,"d":0.02},{"w":"0.50","f":"0.90","s":"GCN-32","e":450,"v":0.535,"d":0.02},{"w":"0.50","f":"0.90","s":"GCN-32","e":600,"v":0.54,"d":0.02},{"w":"0.50","f":"0.90","s":"GCN-32","e":750,"v":0.54,"d":0.02},{"w":"0.50","f":"0.90","s":"GCN-32","e":900,"v":0.54,"d":0.02},{"w":"0.50","f":"0.90","s":"GCN-32","e":950,"v":0.54,"d":0.02},

{"w":"0.74","f":"0.10","s":"SheafNN-16","e":0,"v":0.497,"d":0.02},{"w":"0.74","f":"0.10","s":"SheafNN-16","e":50,"v":0.51,"d":0.03},{"w":"0.74","f":"0.10","s":"SheafNN-16","e":150,"v":0.554,"d":0.05},{"w":"0.74","f":"0.10","s":"SheafNN-16","e":300,"v":0.682,"d":0.05},{"w":"0.74","f":"0.10","s":"SheafNN-16","e":450,"v":0.753,"d":0.045},{"w":"0.74","f":"0.10","s":"SheafNN-16","e":600,"v":0.789,"d":0.04},{"w":"0.74","f":"0.10","s":"SheafNN-16","e":750,"v":0.81,"d":0.035},{"w":"0.74","f":"0.10","s":"SheafNN-16","e":900,"v":0.831,"d":0.03},{"w":"0.74","f":"0.10","s":"SheafNN-16","e":950,"v":0.831,"d":0.03},
{"w":"0.74","f":"0.10","s":"GCN-16","e":0,"v":0.5,"d":0.02},{"w":"0.74","f":"0.10","s":"GCN-16","e":50,"v":0.575,"d":0.02},{"w":"0.74","f":"0.10","s":"GCN-16","e":150,"v":0.568,"d":0.02},{"w":"0.74","f":"0.10","s":"GCN-16","e":300,"v":0.571,"d":0.02},{"w":"0.74","f":"0.10","s":"GCN-16","e":450,"v":0.575,"d":0.02},{"w":"0.74","f":"0.10","s":"GCN-16","e":600,"v":0.58,"d":0.02},{"w":"0.74","f":"0.10","s":"GCN-16","e":750,"v":0.58,"d":0.02},{"w":"0.74","f":"0.10","s":"GCN-16","e":900,"v":0.58,"d":0.02},{"w":"0.74","f":"0.10","s":"GCN-16","e":950,"v":0.58,"d":0.02},
{"w":"0.74","f":"0.10","s":"SheafNN-32","e":0,"v":0.5,"d":0.02},{"w":"0.74","f":"0.10","s":"SheafNN-32","e":50,"v":0.58,"d":0.05},{"w":"0.74","f":"0.10","s":"SheafNN-32","e":150,"v":0.632,"d":0.05},{"w":"0.74","f":"0.10","s":"SheafNN-32","e":300,"v":0.753,"d":0.05},{"w":"0.74","f":"0.10","s":"SheafNN-32","e":450,"v":0.8,"d":0.04},{"w":"0.74","f":"0.10","s":"SheafNN-32","e":600,"v":0.824,"d":0.035},{"w":"0.74","f":"0.10","s":"SheafNN-32","e":750,"v":0.838,"d":0.03},{"w":"0.74","f":"0.10","s":"SheafNN-32","e":900,"v":0.845,"d":0.03},{"w":"0.74","f":"0.10","s":"SheafNN-32","e":950,"v":0.845,"d":0.03},
{"w":"0.74","f":"0.10","s":"GCN-32","e":0,"v":0.5,"d":0.02},{"w":"0.74","f":"0.10","s":"GCN-32","e":50,"v":0.611,"d":0.02},{"w":"0.74","f":"0.10","s":"GCN-32","e":150,"v":0.604,"d":0.02},{"w":"0.74","f":"0.10","s":"GCN-32","e":300,"v":0.608,"d":0.02},{"w":"0.74","f":"0.10","s":"GCN-32","e":450,"v":0.618,"d":0.02},{"w":"0.74","f":"0.10","s":"GCN-32","e":600,"v":0.622,"d":0.02},{"w":"0.74","f":"0.10","s":"GCN-32","e":750,"v":0.625,"d":0.02},{"w":"0.74","f":"0.10","s":"GCN-32","e":900,"v":0.628,"d":0.02},{"w":"0.74","f":"0.10","s":"GCN-32","e":950,"v":0.628,"d":0.02},

{"w":"0.74","f":"0.30","s":"SheafNN-16","e":0,"v":0.525,"d":0.02},{"w":"0.74","f":"0.30","s":"SheafNN-16","e":50,"v":0.52,"d":0.03},{"w":"0.74","f":"0.30","s":"SheafNN-16","e":150,"v":0.54,"d":0.05},{"w":"0.74","f":"0.30","s":"SheafNN-16","e":300,"v":0.675,"d":0.06},{"w":"0.74","f":"0.30","s":"SheafNN-16","e":450,"v":0.746,"d":0.05},{"w":"0.74","f":"0.30","s":"SheafNN-16","e":600,"v":0.774,"d":0.045},{"w":"0.74","f":"0.30","s":"SheafNN-16","e":750,"v":0.789,"d":0.04},{"w":"0.74","f":"0.30","s":"SheafNN-16","e":900,"v":0.796,"d":0.04},{"w":"0.74","f":"0.30","s":"SheafNN-16","e":950,"v":0.796,"d":0.04},
{"w":"0.74","f":"0.30","s":"GCN-16","e":0,"v":0.49,"d":0.02},{"w":"0.74","f":"0.30","s":"GCN-16","e":50,"v":0.565,"d":0.02},{"w":"0.74","f":"0.30","s":"GCN-16","e":150,"v":0.561,"d":0.02},{"w":"0.74","f":"0.30","s":"GCN-16","e":300,"v":0.554,"d":0.02},{"w":"0.74","f":"0.30","s":"GCN-16","e":450,"v":0.557,"d":0.02},{"w":"0.74","f":"0.30","s":"GCN-16","e":600,"v":0.557,"d":0.02},{"w":"0.74","f":"0.30","s":"GCN-16","e":750,"v":0.557,"d":0.02},{"w":"0.74","f":"0.30","s":"GCN-16","e":900,"v":0.557,"d":0.02},{"w":"0.74","f":"0.30","s":"GCN-16","e":950,"v":0.557,"d":0.02},
{"w":"0.74","f":"0.30","s":"SheafNN-32","e":0,"v":0.49,"d":0.02},{"w":"0.74","f":"0.30","s":"SheafNN-32","e":50,"v":0.53,"d":0.05},{"w":"0.74","f":"0.30","s":"SheafNN-32","e":150,"v":0.675,"d":0.06},{"w":"0.74","f":"0.30","s":"SheafNN-32","e":300,"v":0.732,"d":0.05},{"w":"0.74","f":"0.30","s":"SheafNN-32","e":450,"v":0.774,"d":0.045},{"w":"0.74","f":"0.30","s":"SheafNN-32","e":600,"v":0.784,"d":0.04},{"w":"0.74","f":"0.30","s":"SheafNN-32","e":750,"v":0.789,"d":0.04},{"w":"0.74","f":"0.30","s":"SheafNN-32","e":900,"v":0.796,"d":0.04},{"w":"0.74","f":"0.30","s":"SheafNN-32","e":950,"v":0.796,"d":0.04},
{"w":"0.74","f":"0.30","s":"GCN-32","e":0,"v":0.49,"d":0.02},{"w":"0.74","f":"0.30","s":"GCN-32","e":50,"v":0.565,"d":0.02},{"w":"0.74","f":"0.30","s":"GCN-32","e":150,"v":0.568,"d":0.02},{"w":"0.74","f":"0.30","s":"GCN-32","e":300,"v":0.58,"d":0.02},{"w":"0.74","f":"0.30","s":"GCN-32","e":450,"v":0.582,"d":0.02},{"w":"0.74","f":"0.30","s":"GCN-32","e":600,"v":0.582,"d":0.02},{"w":"0.74","f":"0.30","s":"GCN-32","e":750,"v":0.58,"d":0.02},{"w":"0.74","f":"0.30","s":"GCN-32","e":900,"v":0.58,"d":0.02},{"w":"0.74","f":"0.30","s":"GCN-32","e":950,"v":0.58,"d":0.02},

{"w":"0.74","f":"0.50","s":"SheafNN-16","e":0,"v":0.518,"d":0.02},{"w":"0.74","f":"0.50","s":"SheafNN-16","e":50,"v":0.52,"d":0.03},{"w":"0.74","f":"0.50","s":"SheafNN-16","e":150,"v":0.56,"d":0.05},{"w":"0.74","f":"0.50","s":"SheafNN-16","e":300,"v":0.69,"d":0.05},{"w":"0.74","f":"0.50","s":"SheafNN-16","e":450,"v":0.746,"d":0.035},{"w":"0.74","f":"0.50","s":"SheafNN-16","e":600,"v":0.77,"d":0.025},{"w":"0.74","f":"0.50","s":"SheafNN-16","e":750,"v":0.782,"d":0.02},{"w":"0.74","f":"0.50","s":"SheafNN-16","e":900,"v":0.785,"d":0.02},{"w":"0.74","f":"0.50","s":"SheafNN-16","e":950,"v":0.785,"d":0.02},
{"w":"0.74","f":"0.50","s":"GCN-16","e":0,"v":0.49,"d":0.02},{"w":"0.74","f":"0.50","s":"GCN-16","e":50,"v":0.54,"d":0.02},{"w":"0.74","f":"0.50","s":"GCN-16","e":150,"v":0.547,"d":0.02},{"w":"0.74","f":"0.50","s":"GCN-16","e":300,"v":0.54,"d":0.02},{"w":"0.74","f":"0.50","s":"GCN-16","e":450,"v":0.54,"d":0.02},{"w":"0.74","f":"0.50","s":"GCN-16","e":600,"v":0.54,"d":0.02},{"w":"0.74","f":"0.50","s":"GCN-16","e":750,"v":0.54,"d":0.02},{"w":"0.74","f":"0.50","s":"GCN-16","e":900,"v":0.54,"d":0.02},{"w":"0.74","f":"0.50","s":"GCN-16","e":950,"v":0.54,"d":0.02},
{"w":"0.74","f":"0.50","s":"SheafNN-32","e":0,"v":0.5,"d":0.02},{"w":"0.74","f":"0.50","s":"SheafNN-32","e":50,"v":0.58,"d":0.05},{"w":"0.74","f":"0.50","s":"SheafNN-32","e":150,"v":0.675,"d":0.05},{"w":"0.74","f":"0.50","s":"SheafNN-32","e":300,"v":0.725,"d":0.035},{"w":"0.74","f":"0.50","s":"SheafNN-32","e":450,"v":0.753,"d":0.025},{"w":"0.74","f":"0.50","s":"SheafNN-32","e":600,"v":0.756,"d":0.02},{"w":"0.74","f":"0.50","s":"SheafNN-32","e":750,"v":0.756,"d":0.02},{"w":"0.74","f":"0.50","s":"SheafNN-32","e":900,"v":0.756,"d":0.02},{"w":"0.74","f":"0.50","s":"SheafNN-32","e":950,"v":0.756,"d":0.02},
{"w":"0.74","f":"0.50","s":"GCN-32","e":0,"v":0.5,"d":0.02},{"w":"0.74","f":"0.50","s":"GCN-32","e":50,"v":0.545,"d":0.02},{"w":"0.74","f":"0.50","s":"GCN-32","e":150,"v":0.55,"d":0.02},{"w":"0.74","f":"0.50","s":"GCN-32","e":300,"v":0.545,"d":0.02},{"w":"0.74","f":"0.50","s":"GCN-32","e":450,"v":0.545,"d":0.02},{"w":"0.74","f":"0.50","s":"GCN-32","e":600,"v":0.545,"d":0.02},{"w":"0.74","f":"0.50","s":"GCN-32","e":750,"v":0.545,"d":0.02},{"w":"0.74","f":"0.50","s":"GCN-32","e":900,"v":0.54,"d":0.02},{"w":"0.74","f":"0.50","s":"GCN-32","e":950,"v":0.54,"d":0.02},

{"w":"0.74","f":"0.70","s":"SheafNN-16","e":0,"v":0.454,"d":0.02},{"w":"0.74","f":"0.70","s":"SheafNN-16","e":50,"v":0.5,"d":0.03},{"w":"0.74","f":"0.70","s":"SheafNN-16","e":150,"v":0.554,"d":0.05},{"w":"0.74","f":"0.70","s":"SheafNN-16","e":300,"v":0.718,"d":0.035},{"w":"0.74","f":"0.70","s":"SheafNN-16","e":450,"v":0.732,"d":0.025},{"w":"0.74","f":"0.70","s":"SheafNN-16","e":600,"v":0.746,"d":0.02},{"w":"0.74","f":"0.70","s":"SheafNN-16","e":750,"v":0.753,"d":0.02},{"w":"0.74","f":"0.70","s":"SheafNN-16","e":900,"v":0.76,"d":0.02},{"w":"0.74","f":"0.70","s":"SheafNN-16","e":950,"v":0.76,"d":0.02},
{"w":"0.74","f":"0.70","s":"GCN-16","e":0,"v":0.49,"d":0.02},{"w":"0.74","f":"0.70","s":"GCN-16","e":50,"v":0.52,"d":0.02},{"w":"0.74","f":"0.70","s":"GCN-16","e":150,"v":0.522,"d":0.02},{"w":"0.74","f":"0.70","s":"GCN-16","e":300,"v":0.52,"d":0.02},{"w":"0.74","f":"0.70","s":"GCN-16","e":450,"v":0.52,"d":0.02},{"w":"0.74","f":"0.70","s":"GCN-16","e":600,"v":0.515,"d":0.02},{"w":"0.74","f":"0.70","s":"GCN-16","e":750,"v":0.515,"d":0.02},{"w":"0.74","f":"0.70","s":"GCN-16","e":900,"v":0.515,"d":0.02},{"w":"0.74","f":"0.70","s":"GCN-16","e":950,"v":0.515,"d":0.02},
{"w":"0.74","f":"0.70","s":"SheafNN-32","e":0,"v":0.51,"d":0.02},{"w":"0.74","f":"0.70","s":"SheafNN-32","e":50,"v":0.6,"d":0.04},{"w":"0.74","f":"0.70","s":"SheafNN-32","e":150,"v":0.66,"d":0.035},{"w":"0.74","f":"0.70","s":"SheafNN-32","e":300,"v":0.71,"d":0.03},{"w":"0.74","f":"0.70","s":"SheafNN-32","e":450,"v":0.727,"d":0.025},{"w":"0.74","f":"0.70","s":"SheafNN-32","e":600,"v":0.742,"d":0.02},{"w":"0.74","f":"0.70","s":"SheafNN-32","e":750,"v":0.75,"d":0.02},{"w":"0.74","f":"0.70","s":"SheafNN-32","e":900,"v":0.753,"d":0.02},{"w":"0.74","f":"0.70","s":"SheafNN-32","e":950,"v":0.753,"d":0.02},
{"w":"0.74","f":"0.70","s":"GCN-32","e":0,"v":0.49,"d":0.02},{"w":"0.74","f":"0.70","s":"GCN-32","e":50,"v":0.525,"d":0.02},{"w":"0.74","f":"0.70","s":"GCN-32","e":150,"v":0.525,"d":0.02},{"w":"0.74","f":"0.70","s":"GCN-32","e":300,"v":0.528,"d":0.02},{"w":"0.74","f":"0.70","s":"GCN-32","e":450,"v":0.525,"d":0.02},{"w":"0.74","f":"0.70","s":"GCN-32","e":600,"v":0.52,"d":0.02},{"w":"0.74","f":"0.70","s":"GCN-32","e":750,"v":0.515,"d":0.02},{"w":"0.74","f":"0.70","s":"GCN-32","e":900,"v":0.512,"d":0.02},{"w":"0.74","f":"0.70","s":"GCN-32","e":950,"v":0.512,"d":0.02},

{"w":"0.74","f":"0.90","s":"SheafNN-16","e":0,"v":0.475,"d":0.02},{"w":"0.74","f":"0.90","s":"SheafNN-16","e":50,"v":0.52,"d":0.04},{"w":"0.74","f":"0.90","s":"SheafNN-16","e":150,"v":0.59,"d":0.04},{"w":"0.74","f":"0.90","s":"SheafNN-16","e":300,"v":0.675,"d":0.03},{"w":"0.74","f":"0.90","s":"SheafNN-16","e":450,"v":0.71,"d":0.025},{"w":"0.74","f":"0.90","s":"SheafNN-16","e":600,"v":0.725,"d":0.02},{"w":"0.74","f":"0.90","s":"SheafNN-16","e":750,"v":0.736,"d":0.02},{"w":"0.74","f":"0.90","s":"SheafNN-16","e":900,"v":0.746,"d":0.02},{"w":"0.74","f":"0.90","s":"SheafNN-16","e":950,"v":0.746,"d":0.02},
{"w":"0.74","f":"0.90","s":"GCN-16","e":0,"v":0.5,"d":0.02},{"w":"0.74","f":"0.90","s":"GCN-16","e":50,"v":0.51,"d":0.02},{"w":"0.74","f":"0.90","s":"GCN-16","e":150,"v":0.515,"d":0.02},{"w":"0.74","f":"0.90","s":"GCN-16","e":300,"v":0.515,"d":0.02},{"w":"0.74","f":"0.90","s":"GCN-16","e":450,"v":0.515,"d":0.02},{"w":"0.74","f":"0.90","s":"GCN-16","e":600,"v":0.51,"d":0.02},{"w":"0.74","f":"0.90","s":"GCN-16","e":750,"v":0.51,"d":0.02},{"w":"0.74","f":"0.90","s":"GCN-16","e":900,"v":0.51,"d":0.02},{"w":"0.74","f":"0.90","s":"GCN-16","e":950,"v":0.51,"d":0.02},
{"w":"0.74","f":"0.90","s":"SheafNN-32","e":0,"v":0.49,"d":0.02},{"w":"0.74","f":"0.90","s":"SheafNN-32","e":50,"v":0.56,"d":0.05},{"w":"0.74","f":"0.90","s":"SheafNN-32","e":150,"v":0.675,"d":0.04},{"w":"0.74","f":"0.90","s":"SheafNN-32","e":300,"v":0.696,"d":0.03},{"w":"0.74","f":"0.90","s":"SheafNN-32","e":450,"v":0.718,"d":0.025},{"w":"0.74","f":"0.90","s":"SheafNN-32","e":600,"v":0.732,"d":0.02},{"w":"0.74","f":"0.90","s":"SheafNN-32","e":750,"v":0.753,"d":0.02},{"w":"0.74","f":"0.90","s":"SheafNN-32","e":900,"v":0.764,"d":0.02},{"w":"0.74","f":"0.90","s":"SheafNN-32","e":950,"v":0.764,"d":0.02},
{"w":"0.74","f":"0.90","s":"GCN-32","e":0,"v":0.5,"d":0.02},{"w":"0.74","f":"0.90","s":"GCN-32","e":50,"v":0.515,"d":0.02},{"w":"0.74","f":"0.90","s":"GCN-32","e":150,"v":0.52,"d":0.02},{"w":"0.74","f":"0.90","s":"GCN-32","e":300,"v":0.52,"d":0.02},{"w":"0.74","f":"0.90","s":"GCN-32","e":450,"v":0.52,"d":0.02},{"w":"0.74","f":"0.90","s":"GCN-32","e":600,"v":0.515,"d":0.02},{"w":"0.74","f":"0.90","s":"GCN-32","e":750,"v":0.515,"d":0.02},{"w":"0.74","f":"0.90","s":"GCN-32","e":900,"v":0.515,"d":0.02},{"w":"0.74","f":"0.90","s":"GCN-32","e":950,"v":0.515,"d":0.02},

{"w":"0.99","f":"0.10","s":"SheafNN-16","e":0,"v":0.479,"d":0.02},{"w":"0.99","f":"0.10","s":"SheafNN-16","e":50,"v":0.48,"d":0.02},{"w":"0.99","f":"0.10","s":"SheafNN-16","e":150,"v":0.479,"d":0.04},{"w":"0.99","f":"0.10","s":"SheafNN-16","e":300,"v":0.593,"d":0.05},{"w":"0.99","f":"0.10","s":"SheafNN-16","e":450,"v":0.671,"d":0.04},{"w":"0.99","f":"0.10","s":"SheafNN-16","e":600,"v":0.714,"d":0.03},{"w":"0.99","f":"0.10","s":"SheafNN-16","e":750,"v":0.729,"d":0.03},{"w":"0.99","f":"0.10","s":"SheafNN-16","e":900,"v":0.743,"d":0.03},{"w":"0.99","f":"0.10","s":"SheafNN-16","e":950,"v":0.743,"d":0.03},
{"w":"0.99","f":"0.10","s":"GCN-16","e":0,"v":0.5,"d":0.02},{"w":"0.99","f":"0.10","s":"GCN-16","e":50,"v":0.58,"d":0.025},{"w":"0.99","f":"0.10","s":"GCN-16","e":150,"v":0.579,"d":0.025},{"w":"0.99","f":"0.10","s":"GCN-16","e":300,"v":0.586,"d":0.025},{"w":"0.99","f":"0.10","s":"GCN-16","e":450,"v":0.59,"d":0.025},{"w":"0.99","f":"0.10","s":"GCN-16","e":600,"v":0.59,"d":0.025},{"w":"0.99","f":"0.10","s":"GCN-16","e":750,"v":0.59,"d":0.025},{"w":"0.99","f":"0.10","s":"GCN-16","e":900,"v":0.59,"d":0.025},{"w":"0.99","f":"0.10","s":"GCN-16","e":950,"v":0.59,"d":0.025},
{"w":"0.99","f":"0.10","s":"SheafNN-32","e":0,"v":0.5,"d":0.02},{"w":"0.99","f":"0.10","s":"SheafNN-32","e":50,"v":0.51,"d":0.03},{"w":"0.99","f":"0.10","s":"SheafNN-32","e":150,"v":0.586,"d":0.05},{"w":"0.99","f":"0.10","s":"SheafNN-32","e":300,"v":0.693,"d":0.04},{"w":"0.99","f":"0.10","s":"SheafNN-32","e":450,"v":0.729,"d":0.035},{"w":"0.99","f":"0.10","s":"SheafNN-32","e":600,"v":0.764,"d":0.03},{"w":"0.99","f":"0.10","s":"SheafNN-32","e":750,"v":0.771,"d":0.03},{"w":"0.99","f":"0.10","s":"SheafNN-32","e":900,"v":0.786,"d":0.03},{"w":"0.99","f":"0.10","s":"SheafNN-32","e":950,"v":0.786,"d":0.03},
{"w":"0.99","f":"0.10","s":"GCN-32","e":0,"v":0.49,"d":0.02},{"w":"0.99","f":"0.10","s":"GCN-32","e":50,"v":0.6,"d":0.025},{"w":"0.99","f":"0.10","s":"GCN-32","e":150,"v":0.596,"d":0.025},{"w":"0.99","f":"0.10","s":"GCN-32","e":300,"v":0.596,"d":0.025},{"w":"0.99","f":"0.10","s":"GCN-32","e":450,"v":0.6,"d":0.025},{"w":"0.99","f":"0.10","s":"GCN-32","e":600,"v":0.604,"d":0.025},{"w":"0.99","f":"0.10","s":"GCN-32","e":750,"v":0.61,"d":0.025},{"w":"0.99","f":"0.10","s":"GCN-32","e":900,"v":0.61,"d":0.025},{"w":"0.99","f":"0.10","s":"GCN-32","e":950,"v":0.61,"d":0.025},

{"w":"0.99","f":"0.30","s":"SheafNN-16","e":0,"v":0.471,"d":0.02},{"w":"0.99","f":"0.30","s":"SheafNN-16","e":50,"v":0.52,"d":0.04},{"w":"0.99","f":"0.30","s":"SheafNN-16","e":150,"v":0.55,"d":0.05},{"w":"0.99","f":"0.30","s":"SheafNN-16","e":300,"v":0.629,"d":0.05},{"w":"0.99","f":"0.30","s":"SheafNN-16","e":450,"v":0.679,"d":0.045},{"w":"0.99","f":"0.30","s":"SheafNN-16","e":600,"v":0.714,"d":0.04},{"w":"0.99","f":"0.30","s":"SheafNN-16","e":750,"v":0.736,"d":0.035},{"w":"0.99","f":"0.30","s":"SheafNN-16","e":900,"v":0.757,"d":0.03},{"w":"0.99","f":"0.30","s":"SheafNN-16","e":950,"v":0.757,"d":0.03},
{"w":"0.99","f":"0.30","s":"GCN-16","e":0,"v":0.5,"d":0.02},{"w":"0.99","f":"0.30","s":"GCN-16","e":50,"v":0.545,"d":0.025},{"w":"0.99","f":"0.30","s":"GCN-16","e":150,"v":0.55,"d":0.025},{"w":"0.99","f":"0.30","s":"GCN-16","e":300,"v":0.553,"d":0.025},{"w":"0.99","f":"0.30","s":"GCN-16","e":450,"v":0.55,"d":0.025},{"w":"0.99","f":"0.30","s":"GCN-16","e":600,"v":0.547,"d":0.025},{"w":"0.99","f":"0.30","s":"GCN-16","e":750,"v":0.543,"d":0.025},{"w":"0.99","f":"0.30","s":"GCN-16","e":900,"v":0.543,"d":0.025},{"w":"0.99","f":"0.30","s":"GCN-16","e":950,"v":0.543,"d":0.025},
{"w":"0.99","f":"0.30","s":"SheafNN-32","e":0,"v":0.49,"d":0.02},{"w":"0.99","f":"0.30","s":"SheafNN-32","e":50,"v":0.56,"d":0.05},{"w":"0.99","f":"0.30","s":"SheafNN-32","e":150,"v":0.639,"d":0.05},{"w":"0.99","f":"0.30","s":"SheafNN-32","e":300,"v":0.707,"d":0.045},{"w":"0.99","f":"0.30","s":"SheafNN-32","e":450,"v":0.743,"d":0.04},{"w":"0.99","f":"0.30","s":"SheafNN-32","e":600,"v":0.753,"d":0.035},{"w":"0.99","f":"0.30","s":"SheafNN-32","e":750,"v":0.757,"d":0.03},{"w":"0.99","f":"0.30","s":"SheafNN-32","e":900,"v":0.761,"d":0.03},{"w":"0.99","f":"0.30","s":"SheafNN-32","e":950,"v":0.761,"d":0.03},
{"w":"0.99","f":"0.30","s":"GCN-32","e":0,"v":0.49,"d":0.02},{"w":"0.99","f":"0.30","s":"GCN-32","e":50,"v":0.55,"d":0.025},{"w":"0.99","f":"0.30","s":"GCN-32","e":150,"v":0.553,"d":0.025},{"w":"0.99","f":"0.30","s":"GCN-32","e":300,"v":0.557,"d":0.025},{"w":"0.99","f":"0.30","s":"GCN-32","e":450,"v":0.564,"d":0.025},{"w":"0.99","f":"0.30","s":"GCN-32","e":600,"v":0.571,"d":0.025},{"w":"0.99","f":"0.30","s":"GCN-32","e":750,"v":0.579,"d":0.025},{"w":"0.99","f":"0.30","s":"GCN-32","e":900,"v":0.581,"d":0.025},{"w":"0.99","f":"0.30","s":"GCN-32","e":950,"v":0.581,"d":0.025},

{"w":"0.99","f":"0.50","s":"SheafNN-16","e":0,"v":0.536,"d":0.02},{"w":"0.99","f":"0.50","s":"SheafNN-16","e":50,"v":0.52,"d":0.03},{"w":"0.99","f":"0.50","s":"SheafNN-16","e":150,"v":0.529,"d":0.05},{"w":"0.99","f":"0.50","s":"SheafNN-16","e":300,"v":0.6,"d":0.05},{"w":"0.99","f":"0.50","s":"SheafNN-16","e":450,"v":0.707,"d":0.03},{"w":"0.99","f":"0.50","s":"SheafNN-16","e":600,"v":0.714,"d":0.02},{"w":"0.99","f":"0.50","s":"SheafNN-16","e":750,"v":0.719,"d":0.02},{"w":"0.99","f":"0.50","s":"SheafNN-16","e":900,"v":0.724,"d":0.02},{"w":"0.99","f":"0.50","s":"SheafNN-16","e":950,"v":0.724,"d":0.02},
{"w":"0.99","f":"0.50","s":"GCN-16","e":0,"v":0.49,"d":0.02},{"w":"0.99","f":"0.50","s":"GCN-16","e":50,"v":0.52,"d":0.02},{"w":"0.99","f":"0.50","s":"GCN-16","e":150,"v":0.529,"d":0.02},{"w":"0.99","f":"0.50","s":"GCN-16","e":300,"v":0.524,"d":0.02},{"w":"0.99","f":"0.50","s":"GCN-16","e":450,"v":0.524,"d":0.02},{"w":"0.99","f":"0.50","s":"GCN-16","e":600,"v":0.524,"d":0.02},{"w":"0.99","f":"0.50","s":"GCN-16","e":750,"v":0.524,"d":0.02},{"w":"0.99","f":"0.50","s":"GCN-16","e":900,"v":0.521,"d":0.02},{"w":"0.99","f":"0.50","s":"GCN-16","e":950,"v":0.521,"d":0.02},
{"w":"0.99","f":"0.50","s":"SheafNN-32","e":0,"v":0.51,"d":0.02},{"w":"0.99","f":"0.50","s":"SheafNN-32","e":50,"v":0.56,"d":0.05},{"w":"0.99","f":"0.50","s":"SheafNN-32","e":150,"v":0.636,"d":0.05},{"w":"0.99","f":"0.50","s":"SheafNN-32","e":300,"v":0.671,"d":0.04},{"w":"0.99","f":"0.50","s":"SheafNN-32","e":450,"v":0.7,"d":0.025},{"w":"0.99","f":"0.50","s":"SheafNN-32","e":600,"v":0.707,"d":0.02},{"w":"0.99","f":"0.50","s":"SheafNN-32","e":750,"v":0.714,"d":0.02},{"w":"0.99","f":"0.50","s":"SheafNN-32","e":900,"v":0.721,"d":0.02},{"w":"0.99","f":"0.50","s":"SheafNN-32","e":950,"v":0.721,"d":0.02},
{"w":"0.99","f":"0.50","s":"GCN-32","e":0,"v":0.48,"d":0.02},{"w":"0.99","f":"0.50","s":"GCN-32","e":50,"v":0.525,"d":0.02},{"w":"0.99","f":"0.50","s":"GCN-32","e":150,"v":0.533,"d":0.02},{"w":"0.99","f":"0.50","s":"GCN-32","e":300,"v":0.55,"d":0.02},{"w":"0.99","f":"0.50","s":"GCN-32","e":450,"v":0.553,"d":0.02},{"w":"0.99","f":"0.50","s":"GCN-32","e":600,"v":0.553,"d":0.02},{"w":"0.99","f":"0.50","s":"GCN-32","e":750,"v":0.553,"d":0.02},{"w":"0.99","f":"0.50","s":"GCN-32","e":900,"v":0.553,"d":0.02},{"w":"0.99","f":"0.50","s":"GCN-32","e":950,"v":0.553,"d":0.02},

{"w":"0.99","f":"0.70","s":"SheafNN-16","e":0,"v":0.49,"d":0.02},{"w":"0.99","f":"0.70","s":"SheafNN-16","e":50,"v":0.49,"d":0.02},{"w":"0.99","f":"0.70","s":"SheafNN-16","e":150,"v":0.5,"d":0.04},{"w":"0.99","f":"0.70","s":"SheafNN-16","e":300,"v":0.564,"d":0.04},{"w":"0.99","f":"0.70","s":"SheafNN-16","e":450,"v":0.639,"d":0.03},{"w":"0.99","f":"0.70","s":"SheafNN-16","e":600,"v":0.681,"d":0.025},{"w":"0.99","f":"0.70","s":"SheafNN-16","e":750,"v":0.693,"d":0.02},{"w":"0.99","f":"0.70","s":"SheafNN-16","e":900,"v":0.7,"d":0.02},{"w":"0.99","f":"0.70","s":"SheafNN-16","e":950,"v":0.7,"d":0.02},
{"w":"0.99","f":"0.70","s":"GCN-16","e":0,"v":0.49,"d":0.02},{"w":"0.99","f":"0.70","s":"GCN-16","e":50,"v":0.525,"d":0.03},{"w":"0.99","f":"0.70","s":"GCN-16","e":150,"v":0.521,"d":0.025},{"w":"0.99","f":"0.70","s":"GCN-16","e":300,"v":0.529,"d":0.025},{"w":"0.99","f":"0.70","s":"GCN-16","e":450,"v":0.533,"d":0.025},{"w":"0.99","f":"0.70","s":"GCN-16","e":600,"v":0.536,"d":0.025},{"w":"0.99","f":"0.70","s":"GCN-16","e":750,"v":0.536,"d":0.025},{"w":"0.99","f":"0.70","s":"GCN-16","e":900,"v":0.536,"d":0.025},{"w":"0.99","f":"0.70","s":"GCN-16","e":950,"v":0.536,"d":0.025},
{"w":"0.99","f":"0.70","s":"SheafNN-32","e":0,"v":0.49,"d":0.02},{"w":"0.99","f":"0.70","s":"SheafNN-32","e":50,"v":0.5,"d":0.03},{"w":"0.99","f":"0.70","s":"SheafNN-32","e":150,"v":0.564,"d":0.04},{"w":"0.99","f":"0.70","s":"SheafNN-32","e":300,"v":0.643,"d":0.035},{"w":"0.99","f":"0.70","s":"SheafNN-32","e":450,"v":0.671,"d":0.03},{"w":"0.99","f":"0.70","s":"SheafNN-32","e":600,"v":0.686,"d":0.025},{"w":"0.99","f":"0.70","s":"SheafNN-32","e":750,"v":0.693,"d":0.02},{"w":"0.99","f":"0.70","s":"SheafNN-32","e":900,"v":0.707,"d":0.02},{"w":"0.99","f":"0.70","s":"SheafNN-32","e":950,"v":0.707,"d":0.02},
{"w":"0.99","f":"0.70","s":"GCN-32","e":0,"v":0.49,"d":0.02},{"w":"0.99","f":"0.70","s":"GCN-32","e":50,"v":0.53,"d":0.03},{"w":"0.99","f":"0.70","s":"GCN-32","e":150,"v":0.524,"d":0.025},{"w":"0.99","f":"0.70","s":"GCN-32","e":300,"v":0.543,"d":0.025},{"w":"0.99","f":"0.70","s":"GCN-32","e":450,"v":0.536,"d":0.025},{"w":"0.99","f":"0.70","s":"GCN-32","e":600,"v":0.536,"d":0.025},{"w":"0.99","f":"0.70","s":"GCN-32","e":750,"v":0.536,"d":0.025},{"w":"0.99","f":"0.70","s":"GCN-32","e":900,"v":0.539,"d":0.025},{"w":"0.99","f":"0.70","s":"GCN-32","e":950,"v":0.539,"d":0.025},

{"w":"0.99","f":"0.90","s":"SheafNN-16","e":0,"v":0.48,"d":0.02},{"w":"0.99","f":"0.90","s":"SheafNN-16","e":50,"v":0.49,"d":0.02},{"w":"0.99","f":"0.90","s":"SheafNN-16","e":150,"v":0.493,"d":0.03},{"w":"0.99","f":"0.90","s":"SheafNN-16","e":300,"v":0.671,"d":0.03},{"w":"0.99","f":"0.90","s":"SheafNN-16","e":450,"v":0.693,"d":0.02},{"w":"0.99","f":"0.90","s":"SheafNN-16","e":600,"v":0.707,"d":0.02},{"w":"0.99","f":"0.90","s":"SheafNN-16","e":750,"v":0.71,"d":0.02},{"w":"0.99","f":"0.90","s":"SheafNN-16","e":900,"v":0.721,"d":0.02},{"w":"0.99","f":"0.90","s":"SheafNN-16","e":950,"v":0.721,"d":0.02},
{"w":"0.99","f":"0.90","s":"GCN-16","e":0,"v":0.49,"d":0.02},{"w":"0.99","f":"0.90","s":"GCN-16","e":50,"v":0.52,"d":0.02},{"w":"0.99","f":"0.90","s":"GCN-16","e":150,"v":0.521,"d":0.02},{"w":"0.99","f":"0.90","s":"GCN-16","e":300,"v":0.524,"d":0.02},{"w":"0.99","f":"0.90","s":"GCN-16","e":450,"v":0.524,"d":0.02},{"w":"0.99","f":"0.90","s":"GCN-16","e":600,"v":0.524,"d":0.02},{"w":"0.99","f":"0.90","s":"GCN-16","e":750,"v":0.524,"d":0.02},{"w":"0.99","f":"0.90","s":"GCN-16","e":900,"v":0.524,"d":0.02},{"w":"0.99","f":"0.90","s":"GCN-16","e":950,"v":0.524,"d":0.02},
{"w":"0.99","f":"0.90","s":"SheafNN-32","e":0,"v":0.5,"d":0.02},{"w":"0.99","f":"0.90","s":"SheafNN-32","e":50,"v":0.52,"d":0.03},{"w":"0.99","f":"0.90","s":"SheafNN-32","e":150,"v":0.593,"d":0.03},{"w":"0.99","f":"0.90","s":"SheafNN-32","e":300,"v":0.661,"d":0.025},{"w":"0.99","f":"0.90","s":"SheafNN-32","e":450,"v":0.693,"d":0.02},{"w":"0.99","f":"0.90","s":"SheafNN-32","e":600,"v":0.707,"d":0.02},{"w":"0.99","f":"0.90","s":"SheafNN-32","e":750,"v":0.714,"d":0.02},{"w":"0.99","f":"0.90","s":"SheafNN-32","e":900,"v":0.719,"d":0.02},{"w":"0.99","f":"0.90","s":"SheafNN-32","e":950,"v":0.719,"d":0.02},
{"w":"0.99","f":"0.90","s":"GCN-32","e":0,"v":0.51,"d":0.02},{"w":"0.99","f":"0.90","s":"GCN-32","e":50,"v":0.525,"d":0.02},{"w":"0.99","f":"0.90","s":"GCN-32","e":150,"v":0.53,"d":0.02},{"w":"0.99","f":"0.90","s":"GCN-32","e":300,"v":0.53,"d":0.02},{"w":"0.99","f":"0.90","s":"GCN-32","e":450,"v":0.53,"d":0.02},{"w":"0.99","f":"0.90","s":"GCN-32","e":600,"v":0.53,"d":0.02},{"w":"0.99","f":"0.90","s":"GCN-32","e":750,"v":0.528,"d":0.02},{"w":"0.99","f":"0.90","s":"GCN-32","e":900,"v":0.528,"d":0.02},{"w":"0.99","f":"0.90","s":"GCN-32","e":950,"v":0.528,"d":0.02}
]},
"facet":{
"row":{"field":"w","type":"nominal","title":null,"header":{"labelExpr":"datum.value == '0.50' ? ['σ²w =' + datum.value, 'Test Accuracy'] : ['σ²w =' + datum.value, ' ']","labelFont":"Liberation Serif","labelFontSize":22,"labelLineHeight":35,"labelAngle":-90,"labelPadding":16,"labelColor":"black"}},
"column":{"field":"f","type":"nominal","title":"Epoch","header":{"labelExpr":"'σ²feat = ' + datum.value","labelOrient":"top","labelFont":"DejaVu Sans","labelFontSize":20,"labelPadding":30,"labelColor":"black","titleOrient":"bottom","titleFont":"DejaVu Sans","titleFontSize":18,"titleFontWeight":"normal","titleColor":"black","titlePadding":0}}
},
"spacing":{"row":23,"column":39},
"spec":{
"width":213,"height":137,
"encoding":{
"x":{"field":"e","type":"quantitative","scale":{"domain":[-47.5,997.5],"nice":false,"zero":false},"axis":{"values":[0,500],"title":null,"labelFont":"Liberation Serif","labelFontSize":21,"labelPadding":1,"tickSize":7,"tickColor":"black","labelColor":"black","domain":false,"grid":false}},
"color":{"field":"s","type":"nominal","scale":{"domain":["SheafNN-16","GCN-16","SheafNN-32","GCN-32"],"range":["#0000ff","#ff0000","#0000ff","#ff0000"]},"legend":{"title":null,"orient":"none","legendX":-17,"legendY":865,"direction":"horizontal","labelFont":"DejaVu Sans","labelFontSize":27,"labelColor":"black","labelLimit":600,"labelOffset":59,"columnPadding":61,"symbolSize":1156,"symbolStrokeWidth":2.5,"symbolOpacity":1,"padding":13,"strokeColor":"#cccccc","fillColor":"white","cornerRadius":5,"encode":{"symbols":{"update":{"shape":{"signal":"datum.value === 'SheafNN-16' ? 'M-1,0H3M0.59,0.35L1,-0.41L1.41,0.35Z' : datum.value === 'SheafNN-32' ? 'M-1,0H3M0.59,-0.35L1,0.41L1.41,-0.35Z' : datum.value === 'GCN-16' ? 'M-1,0H3M1,-0.45V0.45' : 'M-1,0H3M0.62,-0.38L1.38,0.38M0.62,0.38L1.38,-0.38'"},"fill":{"scale":"color","field":"value"},"stroke":{"scale":"color","field":"value"},"strokeWidth":{"value":2.5},"opacity":{"value":1},"fillOpacity":{"value":1},"strokeOpacity":{"value":1}}}}}}
},
"layer":[
{"transform":[{"calculate":"datum.v - datum.d","as":"lo"},{"calculate":"datum.v + datum.d","as":"hi"}],
 "mark":{"type":"area","opacity":0.13,"interpolate":"monotone"},
 "encoding":{"y":{"field":"lo","type":"quantitative","scale":{"domain":[0.379,0.962],"nice":false,"zero":false},"axis":{"values":[0.4,0.6,0.8],"format":".1f","title":null,"labelFont":"Liberation Serif","labelFontSize":21,"labelPadding":3,"tickSize":7,"tickColor":"black","labelColor":"black","domain":false,"grid":false}},"y2":{"field":"hi"}}},
{"mark":{"type":"line","strokeWidth":2.5,"interpolate":"monotone"},
 "encoding":{"y":{"field":"v","type":"quantitative"}}},
{"transform":[{"filter":"datum.e % 150 == 0 && datum.s == 'SheafNN-16'"}],
 "mark":{"type":"point","shape":"triangle-up","filled":true,"opacity":1,"size":210},
 "encoding":{"y":{"field":"v","type":"quantitative"}}},
{"transform":[{"filter":"datum.e % 150 == 0 && datum.s == 'GCN-16'"}],
 "mark":{"type":"point","shape":"M-1,0H1M0,-1V1","filled":false,"opacity":1,"size":190,"strokeWidth":1.6},
 "encoding":{"y":{"field":"v","type":"quantitative"}}},
{"transform":[{"filter":"datum.e % 150 == 0 && datum.s == 'SheafNN-32'"}],
 "mark":{"type":"point","shape":"triangle-down","filled":true,"opacity":1,"size":210},
 "encoding":{"y":{"field":"v","type":"quantitative"}}},
{"transform":[{"filter":"datum.e % 150 == 0 && datum.s == 'GCN-32'"}],
 "mark":{"type":"point","shape":"M-1,-1L1,1M-1,1L1,-1","filled":false,"opacity":1,"size":190,"strokeWidth":1.6},
 "encoding":{"y":{"field":"v","type":"quantitative"}}}
]
},
"config":{"view":{"stroke":"#111111","strokeWidth":1.5},"font":"DejaVu Sans","axis":{"labelFont":"Liberation Serif"}}
}
